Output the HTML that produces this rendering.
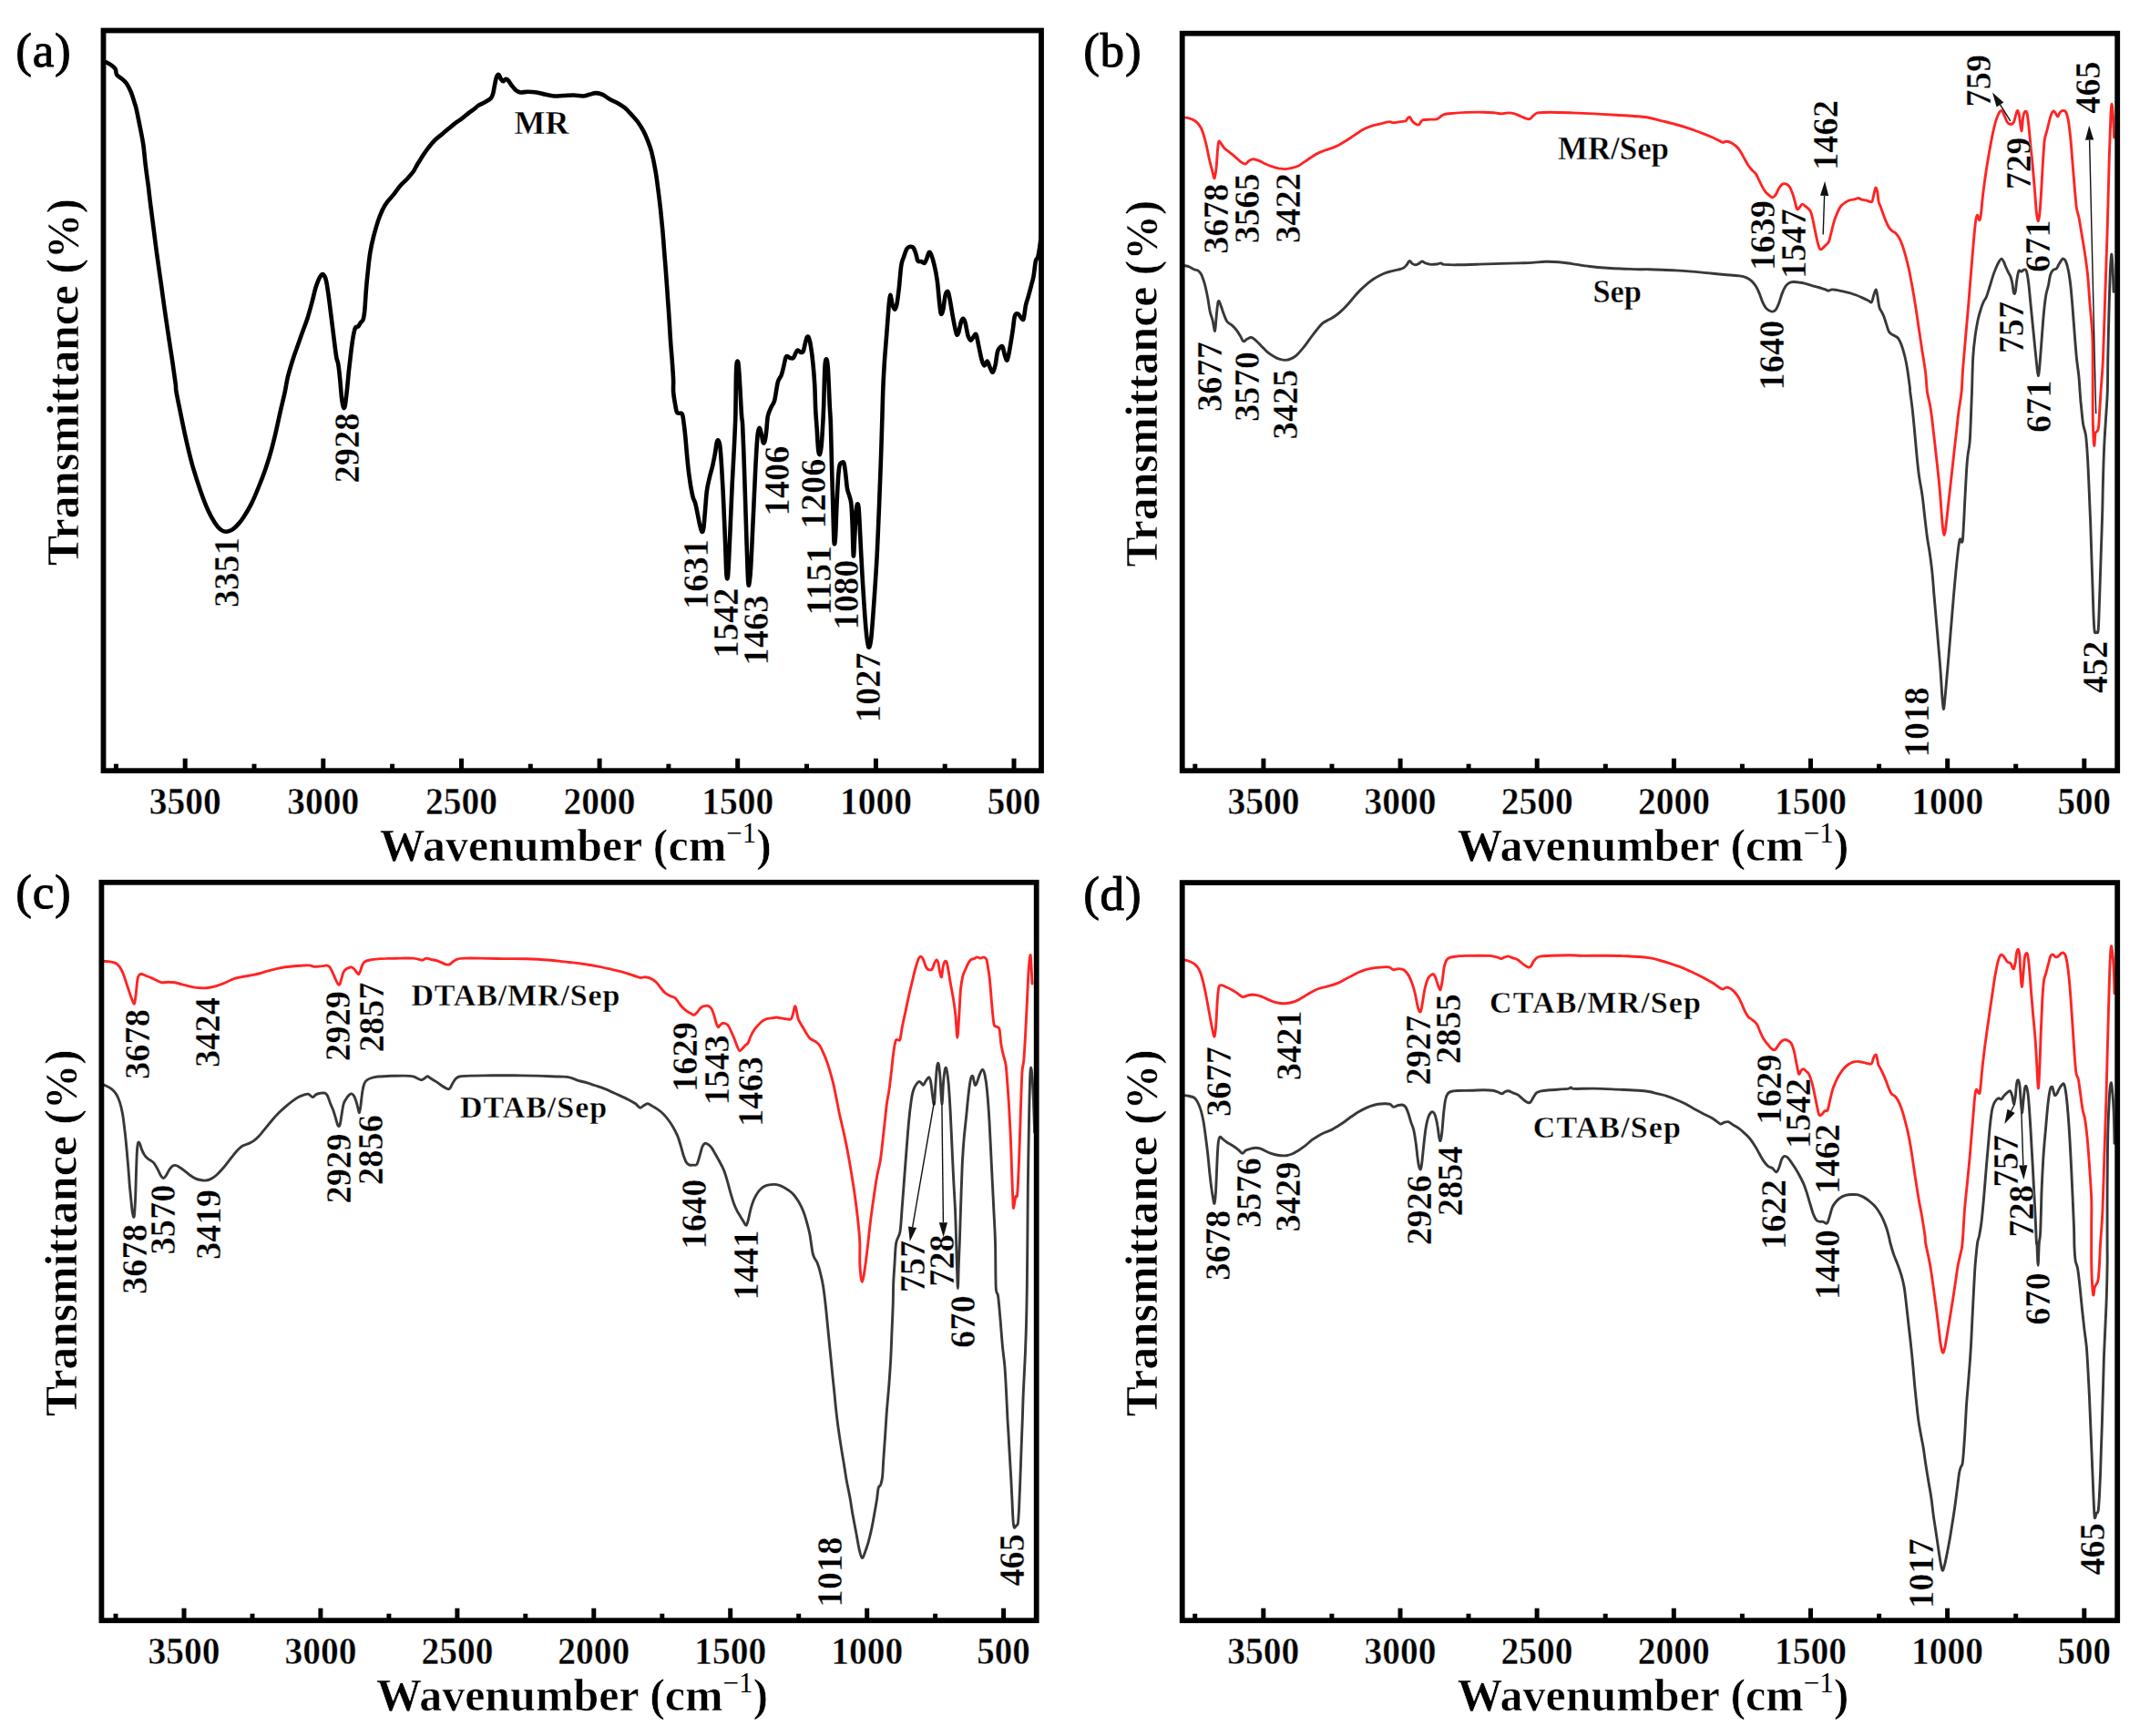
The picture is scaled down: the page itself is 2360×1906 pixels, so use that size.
<!DOCTYPE html><html><head><meta charset="utf-8"><title>FTIR spectra</title>
<style>html,body{margin:0;padding:0;background:#fff;overflow:hidden}svg{display:block}text{font-family:"Liberation Serif", "Times New Roman", serif;fill:#000;font-weight:bold;stroke:#fff;stroke-linejoin:round}.fb14{stroke-width:0.6px}.fb12{stroke-width:0.45px}.fb10{stroke-width:0.4px}.fb0{font-weight:normal;stroke:none}.tag{font-weight:normal;stroke:#000;stroke-width:1.0px}</style></head><body>
<svg width="2360" height="1906" viewBox="0 0 2360 1906">
<rect width="2360" height="1906" fill="#fff"/>
<clipPath id="clipa"><rect x="113.5" y="33.5" width="1029.5" height="812.7"/></clipPath>
<g clip-path="url(#clipa)">
<path d="M110.0,66.3C110.4,66.4 110.8,66.2 112.4,66.8C114.0,67.4 117.3,68.5 119.7,69.9C122.0,71.4 125.0,73.5 126.5,75.5C127.9,77.5 126.9,80.1 128.1,82.0C129.4,83.9 132.4,85.3 134.2,86.9C136.0,88.5 137.4,89.3 139.0,91.7C140.6,94.1 142.5,98.0 143.9,101.4C145.3,104.8 146.5,109.0 147.5,112.3C148.5,115.5 148.9,116.3 149.9,120.7C150.9,125.2 152.3,132.6 153.6,138.9C154.8,145.1 156.2,151.4 157.2,158.2C158.2,165.1 158.7,172.4 159.6,180.0C160.5,187.7 161.7,196.2 162.8,204.2C163.8,212.3 164.6,220.4 165.7,228.4C166.7,236.5 167.8,244.5 168.8,252.6C169.8,260.7 170.9,268.7 171.9,276.8C173.0,284.9 174.2,292.9 175.3,301.0C176.5,309.1 177.6,317.1 178.7,325.2C179.8,333.3 180.9,341.3 182.1,349.4C183.3,357.5 184.5,365.5 185.7,373.6C186.9,381.7 188.2,389.7 189.4,397.8C190.5,405.9 192.1,416.6 192.8,422.0C193.4,427.4 192.6,424.6 193.5,430.0C194.4,435.4 196.5,445.3 198.3,454.2C200.1,463.1 202.2,473.6 204.4,483.2C206.6,492.9 209.0,503.0 211.6,512.3C214.3,521.5 217.3,530.8 220.1,538.9C222.9,547.0 225.9,554.8 228.6,560.7C231.2,566.5 233.6,570.5 235.8,574.0C238.0,577.4 239.9,579.6 241.9,581.2C243.9,582.8 245.9,583.5 247.9,583.7C249.9,583.8 252.0,583.0 254.0,582.0C256.0,580.9 257.8,579.5 260.0,577.1C262.2,574.8 264.7,571.9 267.3,567.9C269.9,564.0 272.9,559.1 275.8,553.4C278.6,547.8 281.6,540.5 284.2,534.0C286.8,527.6 289.3,521.1 291.5,514.7C293.7,508.2 295.7,501.8 297.5,495.3C299.3,488.9 300.8,482.8 302.4,476.0C304.0,469.1 305.5,461.9 307.2,454.2C308.9,446.5 311.4,436.6 312.8,430.0C314.2,423.4 314.4,420.1 315.7,414.7C317.0,409.4 318.9,403.0 320.5,397.8C322.1,392.6 323.5,388.5 325.4,383.3C327.2,378.0 329.4,372.0 331.4,366.3C333.4,360.7 335.6,355.1 337.5,349.4C339.3,343.8 340.8,338.1 342.3,332.5C343.8,326.8 345.3,320.0 346.6,315.5C348.0,311.1 349.2,308.2 350.3,305.8C351.4,303.5 352.3,302.1 353.2,301.5C354.1,300.9 354.8,301.1 355.6,302.2C356.4,303.3 357.2,304.8 358.0,308.3C358.8,311.7 359.6,317.1 360.4,322.8C361.2,328.4 362.1,335.7 362.9,342.1C363.7,348.6 364.5,355.1 365.3,361.5C366.1,368.0 367.0,375.6 367.7,380.9C368.4,386.1 368.8,389.7 369.4,393.0C370.0,396.2 370.7,396.2 371.3,400.2C372.0,404.3 372.7,411.1 373.3,417.2C373.9,423.2 374.4,431.6 375.0,436.5C375.6,441.5 376.3,445.3 376.9,446.9C377.5,448.6 378.0,448.7 378.6,446.2C379.2,443.6 379.8,438.1 380.5,431.7C381.3,425.2 382.1,415.1 382.9,407.5C383.8,399.8 384.6,392.2 385.4,385.7C386.2,379.2 387.0,373.1 387.8,368.8C388.6,364.4 389.3,361.3 390.2,359.6C391.1,357.9 392.2,359.4 393.1,358.6C394.0,357.8 394.6,356.1 395.5,354.7C396.5,353.4 397.9,353.1 398.7,350.6C399.5,348.1 399.8,345.6 400.4,339.7C400.9,333.9 401.5,322.8 402.1,315.5C402.7,308.3 403.3,302.6 404.0,296.2C404.7,289.7 405.4,282.9 406.4,276.8C407.4,270.8 408.6,265.5 410.0,259.9C411.5,254.2 413.3,247.8 414.9,242.9C416.5,238.1 418.1,234.3 419.7,230.8C421.3,227.4 422.5,225.2 424.6,222.4C426.6,219.5 429.4,216.9 431.8,213.9C434.2,210.9 436.7,207.0 439.1,204.2C441.5,201.4 443.9,199.6 446.3,197.0C448.8,194.3 451.6,191.3 453.6,188.5C455.6,185.7 456.6,183.0 458.4,180.0C460.3,177.0 462.5,173.4 464.5,170.3C466.5,167.3 468.3,164.7 470.5,161.9C472.8,159.1 475.4,155.8 477.8,153.4C480.2,151.0 482.6,149.4 485.1,147.4C487.5,145.3 489.9,143.3 492.3,141.3C494.7,139.3 497.2,137.1 499.6,135.3C502.0,133.4 504.4,132.2 506.8,130.4C509.3,128.6 511.7,126.3 514.1,124.4C516.5,122.5 519.5,120.5 521.4,119.0C523.2,117.6 523.2,117.0 525.0,115.9C526.8,114.8 529.9,113.6 532.2,112.3C534.5,110.9 537.3,109.5 538.8,107.9C540.3,106.3 540.5,105.1 541.2,102.6C541.9,100.1 542.5,95.9 543.1,92.9C543.8,89.9 544.3,86.3 545.1,84.4C545.8,82.6 546.7,81.6 547.5,82.0C548.3,82.4 549.1,85.7 549.9,86.9C550.7,88.1 551.5,89.3 552.3,89.3C553.1,89.3 553.9,87.1 554.7,86.9C555.6,86.7 556.6,87.0 557.7,88.1C558.7,89.2 559.9,91.6 561.3,93.4C562.7,95.2 564.5,97.6 566.1,99.0C567.7,100.3 568.7,101.1 571.0,101.4C573.2,101.7 576.4,100.7 579.4,100.7C582.5,100.7 585.9,100.9 589.1,101.4C592.3,101.9 595.6,103.1 598.8,103.8C602.0,104.5 605.2,105.3 608.5,105.5C611.7,105.7 614.6,105.2 618.1,105.0C621.7,104.9 626.4,104.4 630.0,104.5C633.6,104.6 636.9,105.6 639.7,105.5C642.5,105.4 644.5,104.4 646.9,103.8C649.4,103.2 651.8,102.1 654.2,102.1C656.6,102.1 659.0,102.7 661.5,103.8C663.9,104.9 665.9,107.0 668.7,108.6C671.5,110.3 675.6,111.9 678.4,113.5C681.2,115.1 683.2,116.3 685.7,118.3C688.1,120.3 690.5,123.0 692.9,125.6C695.3,128.2 698.0,131.0 700.2,134.0C702.4,137.1 704.4,140.3 706.2,143.7C708.0,147.2 709.6,150.8 711.1,154.6C712.6,158.4 713.8,161.7 715.2,166.7C716.5,171.8 717.9,178.6 719.0,184.9C720.2,191.1 721.0,197.0 721.9,204.2C722.9,211.5 724.0,220.4 724.9,228.4C725.7,236.5 726.5,244.5 727.3,252.6C728.0,260.7 728.6,268.7 729.2,276.8C729.9,284.9 730.5,292.9 731.1,301.0C731.7,309.1 732.3,317.1 732.8,325.2C733.4,333.3 734.0,341.3 734.5,349.4C735.1,357.5 735.4,365.5 736.0,373.6C736.5,381.7 737.4,390.5 737.9,397.8C738.4,405.1 738.9,411.8 739.1,417.2C739.3,422.5 738.8,425.8 739.1,430.0C739.4,434.2 740.1,438.3 740.8,442.1C741.5,445.9 742.0,451.0 743.2,453.0C744.5,455.0 747.4,452.4 748.6,454.2C749.8,456.0 749.9,459.8 750.5,463.9C751.1,467.9 751.6,472.7 752.2,478.4C752.8,484.0 753.3,491.3 753.9,497.8C754.5,504.2 755.1,511.1 755.8,517.1C756.6,523.2 757.4,529.2 758.2,534.0C759.1,538.9 759.9,543.1 760.7,546.1C761.5,549.2 762.3,549.4 763.1,552.2C763.9,555.0 764.7,559.3 765.5,563.1C766.3,566.9 767.1,571.8 767.9,575.2C768.7,578.6 769.6,582.8 770.3,583.7C771.1,584.5 771.7,583.9 772.3,580.0C772.9,576.2 773.4,567.5 774.0,560.7C774.6,553.8 775.1,544.9 775.9,538.9C776.7,532.8 777.8,528.8 778.8,524.4C779.8,519.9 781.0,516.7 782.0,512.3C783.0,507.8 784.1,502.2 784.9,497.8C785.7,493.3 786.2,488.0 786.8,485.7C787.4,483.3 787.9,482.9 788.5,483.7C789.1,484.5 789.8,485.7 790.4,490.5C791.0,495.3 791.6,504.2 792.1,512.3C792.6,520.3 793.1,529.2 793.6,538.9C794.1,548.6 794.6,560.3 795.0,570.3C795.5,580.4 795.8,589.3 796.2,599.4C796.6,609.5 797.0,625.2 797.4,630.8C797.9,636.5 798.5,636.1 798.9,633.3C799.3,630.4 799.6,623.6 800.1,613.9C800.6,604.2 801.2,588.9 801.8,575.2C802.4,561.5 803.1,545.7 803.7,531.6C804.4,517.5 805.3,503.4 805.9,490.5C806.5,477.6 807.0,468.0 807.4,454.2C807.7,440.4 807.7,417.1 808.1,407.5C808.5,397.9 809.0,396.6 809.5,396.6C810.1,396.6 810.5,397.9 811.2,407.5C812.0,417.1 813.3,444.4 813.9,454.2C814.5,464.0 814.6,457.0 815.1,466.3C815.6,475.6 816.3,494.9 816.8,509.9C817.3,524.8 817.8,540.9 818.3,555.8C818.7,570.7 819.2,585.7 819.7,599.4C820.2,613.1 820.7,631.2 821.2,638.1C821.6,645.0 821.9,642.9 822.4,640.5C822.9,638.1 823.5,632.9 824.1,623.6C824.7,614.3 825.4,598.2 826.0,584.9C826.6,571.6 827.3,557.4 827.9,543.7C828.6,530.0 829.2,513.9 829.9,502.6C830.5,491.3 831.2,481.4 831.8,476.0C832.5,470.5 833.1,469.9 833.7,469.9C834.4,469.9 835.0,473.4 835.7,476.0C836.3,478.6 837.0,484.2 837.6,485.7C838.3,487.1 838.9,486.5 839.5,484.4C840.2,482.4 840.7,478.2 841.2,473.6C841.8,468.9 842.0,461.1 842.9,456.6C843.8,452.2 845.4,449.8 846.6,446.9C847.8,444.1 849.0,444.2 850.2,439.7C851.4,435.1 852.6,424.1 853.8,419.6C855.0,415.0 856.4,414.9 857.5,412.3C858.5,409.7 859.1,407.1 859.9,403.8C860.7,400.6 861.6,395.1 862.3,393.0C863.0,390.8 863.4,391.0 864.2,391.0C865.0,391.0 866.0,392.6 867.1,393.0C868.2,393.3 869.8,393.8 870.8,393.0C871.8,392.2 872.4,389.5 873.2,388.1C874.0,386.7 874.6,384.7 875.6,384.5C876.6,384.3 878.2,386.7 879.2,386.9C880.2,387.1 880.8,387.5 881.7,385.7C882.5,383.9 883.3,378.6 884.1,376.0C884.8,373.4 885.4,370.8 886.0,370.0C886.7,369.2 887.3,369.4 887.9,371.2C888.6,373.0 889.4,376.0 890.1,380.9C890.9,385.7 891.9,393.4 892.5,400.2C893.2,407.1 893.8,413.8 894.2,422.0C894.7,430.2 894.8,441.2 895.2,449.4C895.6,457.5 896.2,463.9 896.7,471.1C897.1,478.4 897.6,488.3 898.1,492.9C898.6,497.6 899.2,499.4 899.8,499.0C900.4,498.6 901.0,495.1 901.5,490.5C902.0,485.9 902.5,478.8 902.9,471.1C903.4,463.5 903.8,455.7 904.2,444.5C904.6,433.3 904.9,412.2 905.4,403.8C905.8,395.5 906.5,394.2 907.1,394.2C907.6,394.2 908.1,395.5 908.8,403.8C909.4,412.2 910.2,434.1 910.7,444.5C911.2,454.9 911.5,454.6 911.9,466.3C912.3,478.0 912.7,499.8 913.1,514.7C913.5,529.6 913.9,542.5 914.3,555.8C914.7,569.1 915.1,588.9 915.5,594.5C916.0,600.2 916.5,596.2 917.0,589.7C917.5,583.2 917.9,566.3 918.4,555.8C918.9,545.3 919.4,534.3 919.9,526.8C920.4,519.3 920.9,514.2 921.6,511.1C922.3,507.9 923.2,508.3 924.0,507.9C924.8,507.5 925.7,506.7 926.4,508.6C927.1,510.6 927.5,514.9 928.1,519.5C928.7,524.2 929.3,532.2 930.0,536.5C930.8,540.7 931.7,542.1 932.5,544.9C933.2,547.8 933.9,548.4 934.4,553.4C934.9,558.4 935.2,565.7 935.6,575.2C936.0,584.7 936.4,608.3 936.8,610.3C937.3,612.3 937.8,595.5 938.3,587.3C938.8,579.0 939.2,566.3 939.7,560.7C940.2,555.0 940.7,553.8 941.2,553.4C941.7,553.0 942.1,553.0 942.6,558.2C943.1,563.5 943.6,574.8 944.1,584.9C944.6,594.9 945.2,608.3 945.8,618.7C946.3,629.2 946.9,638.1 947.5,647.8C948.1,657.5 948.8,668.3 949.4,676.8C950.0,685.3 950.7,692.9 951.3,698.6C952.0,704.2 952.8,709.9 953.5,710.7C954.3,711.5 955.2,708.3 955.9,703.4C956.7,698.6 957.1,690.9 957.9,681.7C958.6,672.4 959.5,659.9 960.3,647.8C961.1,635.7 962.0,622.8 962.7,609.1C963.4,595.3 964.0,580.0 964.6,565.5C965.3,551.0 965.8,536.5 966.3,521.9C966.9,507.4 967.3,493.7 967.8,478.4C968.3,463.1 968.8,443.0 969.2,430.0C969.7,417.0 970.1,410.4 970.7,400.2C971.3,390.0 972.3,379.2 973.1,368.8C973.9,358.3 974.9,344.8 975.5,337.3C976.2,329.8 976.5,324.4 977.2,324.0C977.9,323.6 978.8,332.3 979.7,334.9C980.5,337.5 981.3,339.9 982.1,339.7C982.9,339.5 983.7,337.7 984.5,333.7C985.3,329.6 986.1,322.6 986.9,315.5C987.7,308.5 988.4,297.0 989.3,291.3C990.2,285.7 991.2,284.7 992.2,281.7C993.2,278.6 994.3,275.0 995.4,273.2C996.5,271.4 997.8,271.0 999.0,270.8C1000.2,270.6 1001.5,270.6 1002.6,272.0C1003.7,273.4 1004.7,276.8 1005.5,279.2C1006.3,281.7 1006.6,285.2 1007.5,286.5C1008.4,287.8 1009.9,286.6 1011.1,287.0C1012.3,287.4 1013.7,289.4 1014.7,288.9C1015.7,288.4 1016.4,286.0 1017.2,284.1C1018.0,282.1 1018.8,278.1 1019.6,277.3C1020.4,276.5 1021.0,276.9 1022.0,279.2C1023.0,281.6 1024.5,286.5 1025.6,291.3C1026.8,296.2 1027.8,301.4 1028.8,308.3C1029.7,315.1 1030.5,326.4 1031.2,332.5C1031.9,338.5 1032.2,343.4 1032.9,344.6C1033.6,345.8 1034.5,343.2 1035.3,339.7C1036.1,336.3 1036.8,327.2 1037.7,324.0C1038.6,320.8 1039.7,319.0 1040.6,320.4C1041.6,321.8 1042.4,327.6 1043.3,332.5C1044.2,337.3 1045.1,343.8 1046.2,349.4C1047.3,355.1 1048.8,363.7 1049.8,366.3C1050.8,369.0 1051.4,367.1 1052.2,365.1C1053.0,363.1 1053.9,356.8 1054.7,354.2C1055.5,351.7 1056.3,349.9 1057.1,349.9C1057.9,349.9 1058.6,351.1 1059.5,354.2C1060.4,357.4 1061.6,365.5 1062.6,368.8C1063.7,372.0 1064.5,373.6 1065.6,373.6C1066.6,373.6 1068.2,369.8 1069.2,368.8C1070.2,367.8 1070.8,365.9 1071.6,367.6C1072.4,369.2 1073.0,373.8 1074.0,378.4C1075.0,383.1 1076.6,391.5 1077.7,395.4C1078.7,399.2 1079.5,401.2 1080.6,401.4C1081.6,401.6 1082.7,396.2 1083.7,396.6C1084.7,397.0 1085.8,401.8 1086.8,403.8C1087.9,405.9 1088.8,409.3 1089.7,408.7C1090.7,408.1 1091.8,404.0 1092.7,400.2C1093.5,396.4 1094.1,388.9 1095.1,385.7C1096.0,382.5 1097.3,381.7 1098.2,380.9C1099.1,380.1 1099.8,379.2 1100.6,380.9C1101.4,382.5 1102.3,388.1 1103.1,390.5C1103.9,393.0 1104.7,396.2 1105.5,395.4C1106.3,394.6 1106.9,390.9 1107.9,385.7C1108.9,380.5 1110.5,370.4 1111.5,363.9C1112.5,357.5 1112.9,350.2 1113.9,347.0C1115.0,343.8 1116.4,344.2 1117.6,344.6C1118.8,345.0 1120.2,348.5 1121.2,349.4C1122.2,350.3 1122.8,352.3 1123.6,349.9C1124.4,347.5 1125.2,338.8 1126.0,334.9C1126.9,331.0 1127.5,330.0 1128.5,326.4C1129.5,322.8 1131.1,316.9 1132.1,313.1C1133.1,309.3 1133.7,307.9 1134.5,303.4C1135.3,299.0 1136.1,290.1 1136.9,286.5C1137.7,282.9 1138.5,284.9 1139.4,281.7C1140.2,278.4 1141.1,272.8 1141.8,267.1C1142.5,261.5 1143.2,251.0 1143.5,247.8" fill="none" stroke="#000" stroke-width="4.6" stroke-linejoin="round" stroke-linecap="round"/>
</g>
<clipPath id="clipb"><rect x="1297.7" y="36.7" width="1026.5" height="809.5"/></clipPath>
<g clip-path="url(#clipb)">
<path d="M1297.3,291.3C1298.5,291.5 1302.3,291.8 1304.5,292.5C1306.7,293.3 1308.8,294.9 1310.6,295.7C1312.4,296.5 1314.0,296.3 1315.4,297.4C1316.8,298.5 1317.8,299.6 1319.0,302.2C1320.2,304.8 1321.5,308.9 1322.7,313.1C1323.8,317.3 1324.9,322.8 1325.8,327.6C1326.7,332.5 1327.3,338.1 1328.2,342.1C1329.1,346.2 1330.2,348.3 1331.1,351.8C1332.0,355.4 1332.9,363.8 1333.6,363.4C1334.2,363.0 1334.5,354.2 1335.0,349.4C1335.5,344.6 1336.0,338.0 1336.5,334.9C1336.9,331.7 1337.3,330.3 1337.9,330.5C1338.6,330.7 1339.4,333.8 1340.3,336.1C1341.2,338.4 1342.1,341.7 1343.2,344.6C1344.3,347.4 1345.5,351.0 1346.9,353.0C1348.3,355.1 1350.1,355.3 1351.7,356.7C1353.3,358.1 1354.9,359.5 1356.5,361.5C1358.2,363.5 1360.0,366.5 1361.4,368.8C1362.8,371.0 1363.8,374.2 1365.0,374.8C1366.2,375.4 1367.2,373.1 1368.6,372.4C1370.1,371.7 1371.9,370.3 1373.5,370.5C1375.1,370.7 1376.5,372.1 1378.3,373.6C1380.1,375.1 1382.2,377.4 1384.4,379.7C1386.6,381.9 1389.2,384.9 1391.6,386.9C1394.0,388.9 1396.7,390.5 1398.9,391.7C1401.1,393.0 1402.9,393.8 1404.9,394.4C1407.0,395.0 1409.0,395.5 1411.0,395.4C1413.0,395.3 1415.0,394.8 1417.0,393.9C1419.1,393.0 1420.9,392.0 1423.1,390.1C1425.3,388.1 1427.9,385.0 1430.3,382.1C1432.8,379.1 1435.2,375.6 1437.6,372.4C1440.0,369.2 1442.4,365.7 1444.9,362.7C1447.3,359.8 1449.7,356.7 1452.1,354.7C1454.5,352.7 1457.2,351.9 1459.4,350.6C1461.6,349.3 1463.4,348.4 1465.4,347.0C1467.4,345.6 1469.3,344.2 1471.5,342.1C1473.7,340.1 1476.3,337.5 1478.7,334.9C1481.2,332.3 1483.6,329.2 1486.0,326.4C1488.4,323.7 1490.8,320.9 1493.3,318.4C1495.7,316.0 1498.1,313.9 1500.5,311.9C1502.9,309.9 1505.0,308.1 1507.8,306.3C1510.6,304.5 1514.4,302.4 1517.5,301.0C1520.5,299.6 1523.1,298.9 1525.9,298.1C1528.7,297.3 1532.0,296.8 1534.4,296.2C1536.8,295.5 1538.8,295.1 1540.4,294.2C1542.1,293.3 1542.9,292.1 1544.1,290.8C1545.2,289.6 1546.2,286.7 1547.2,286.5C1548.2,286.2 1549.0,288.7 1550.1,289.4C1551.2,290.1 1552.5,290.8 1553.8,290.8C1555.0,290.8 1556.2,290.0 1557.4,289.4C1558.6,288.7 1559.8,287.1 1561.0,287.0C1562.2,286.9 1563.0,288.3 1564.6,288.9C1566.3,289.5 1568.5,290.2 1570.7,290.4C1572.9,290.5 1576.1,290.1 1577.9,289.9C1579.8,289.6 1580.4,288.8 1581.6,288.9C1582.8,289.0 1582.2,290.0 1585.2,290.4C1588.2,290.7 1593.3,290.9 1599.7,290.8C1606.2,290.8 1615.9,290.4 1623.9,290.1C1632.0,289.9 1640.9,289.6 1648.1,289.4C1655.4,289.2 1661.8,289.1 1667.5,288.9C1673.1,288.7 1677.2,288.7 1682.0,288.4C1686.8,288.1 1691.7,287.3 1696.5,287.2C1701.4,287.1 1706.2,287.3 1711.0,287.7C1715.9,288.1 1719.9,288.8 1725.6,289.6C1731.2,290.4 1738.5,291.8 1744.9,292.5C1751.4,293.3 1757.8,293.8 1764.3,294.2C1770.7,294.7 1778.0,295.0 1783.6,295.2C1789.3,295.4 1793.7,295.6 1798.1,295.7C1802.5,295.8 1805.6,295.6 1810.0,295.7C1814.4,295.8 1819.7,296.0 1824.5,296.2C1829.4,296.4 1834.2,296.6 1839.0,296.9C1843.9,297.2 1848.7,297.5 1853.6,297.9C1858.4,298.2 1863.2,298.6 1868.1,299.1C1872.9,299.5 1878.6,300.1 1882.6,300.5C1886.6,300.9 1889.0,301.2 1892.3,301.5C1895.5,301.8 1899.1,302.0 1901.9,302.2C1904.8,302.5 1906.8,302.5 1909.2,302.9C1911.6,303.3 1914.3,303.8 1916.5,304.6C1918.7,305.5 1920.7,306.7 1922.5,308.3C1924.3,309.9 1925.9,312.1 1927.4,314.3C1928.8,316.5 1929.8,318.8 1931.0,321.6C1932.2,324.4 1933.4,328.6 1934.6,331.3C1935.8,334.0 1937.0,336.2 1938.2,337.8C1939.5,339.4 1940.7,340.2 1941.9,340.9C1943.1,341.7 1944.3,342.3 1945.5,342.1C1946.7,342.0 1947.9,341.8 1949.1,340.2C1950.3,338.6 1951.6,335.6 1952.8,332.5C1954.0,329.4 1955.2,324.6 1956.4,321.6C1957.6,318.6 1958.8,316.1 1960.0,314.3C1961.2,312.5 1962.2,311.5 1963.7,310.7C1965.1,309.9 1966.7,309.6 1968.5,309.5C1970.3,309.4 1972.3,309.6 1974.5,310.0C1976.8,310.3 1979.4,310.8 1981.8,311.4C1984.2,312.0 1986.6,312.9 1989.1,313.6C1991.5,314.3 1993.9,314.8 1996.3,315.5C1998.7,316.3 2001.8,317.3 2003.6,317.9C2005.4,318.6 2006.0,319.2 2007.2,319.2C2008.4,319.2 2009.4,318.1 2010.8,317.9C2012.2,317.8 2013.7,318.1 2015.7,318.4C2017.7,318.8 2020.5,319.4 2022.9,319.9C2025.4,320.4 2027.8,320.9 2030.2,321.6C2032.6,322.3 2035.0,323.1 2037.5,324.0C2039.9,324.9 2042.5,326.1 2044.7,327.1C2046.9,328.2 2049.1,329.3 2050.8,330.0C2052.4,330.8 2053.4,332.7 2054.4,331.7C2055.4,330.7 2056.0,326.3 2056.8,324.0C2057.6,321.7 2058.5,317.7 2059.2,317.9C2059.9,318.1 2060.3,322.0 2060.9,325.2C2061.5,328.4 2062.1,334.5 2062.9,337.3C2063.6,340.1 2064.5,340.5 2065.3,342.1C2066.1,343.8 2066.9,345.0 2067.7,347.0C2068.5,349.0 2069.2,351.4 2070.1,354.2C2071.0,357.1 2072.3,361.8 2073.3,363.9C2074.3,366.0 2075.1,366.0 2076.2,366.8C2077.3,367.6 2078.6,368.0 2079.8,368.8C2081.0,369.5 2082.2,369.6 2083.4,371.2C2084.6,372.8 2085.8,375.2 2087.1,378.4C2088.3,381.7 2089.6,386.1 2090.7,390.5C2091.8,395.0 2092.7,399.4 2093.6,405.1C2094.5,410.7 2095.7,420.3 2096.3,424.4C2096.8,428.6 2096.3,425.8 2096.7,430.0C2097.2,434.2 2098.4,442.1 2099.2,449.4C2100.0,456.6 2100.8,465.1 2101.6,473.6C2102.4,482.0 2103.2,492.1 2104.0,500.2C2104.8,508.2 2105.4,514.7 2106.4,521.9C2107.4,529.2 2109.0,536.5 2110.0,543.7C2111.1,551.0 2111.6,557.8 2112.5,565.5C2113.4,573.2 2114.4,582.4 2115.4,589.7C2116.4,597.0 2117.6,602.6 2118.5,609.1C2119.4,615.5 2120.2,621.2 2120.9,628.4C2121.7,635.7 2122.2,644.5 2122.9,652.6C2123.6,660.7 2124.3,667.9 2125.0,676.8C2125.8,685.7 2126.7,696.2 2127.5,705.8C2128.3,715.5 2129.2,725.2 2129.9,734.9C2130.6,744.6 2131.3,756.7 2131.8,763.9C2132.4,771.2 2132.8,777.6 2133.3,778.4C2133.8,779.2 2134.1,774.8 2134.7,768.8C2135.4,762.7 2136.3,751.4 2137.1,742.1C2138.0,732.9 2138.8,722.8 2139.6,713.1C2140.4,703.4 2141.2,693.8 2142.0,684.1C2142.8,674.4 2143.6,664.3 2144.4,655.0C2145.2,645.8 2146.1,636.1 2146.8,628.4C2147.6,620.8 2148.1,614.7 2148.8,609.1C2149.4,603.4 2150.2,597.4 2150.7,594.5C2151.2,591.6 2151.1,591.6 2151.7,591.6C2152.2,591.6 2153.4,597.3 2154.1,594.5C2154.7,591.8 2155.1,582.4 2155.5,575.2C2156.0,567.9 2156.3,559.1 2156.7,551.0C2157.2,542.9 2157.5,534.9 2158.0,526.8C2158.4,518.7 2159.0,509.4 2159.7,502.6C2160.3,495.7 2161.5,492.5 2162.1,485.7C2162.7,478.8 2162.9,470.7 2163.3,461.5C2163.7,452.2 2164.1,441.4 2164.5,430.0C2164.9,418.6 2165.1,403.2 2165.7,393.0C2166.3,382.8 2167.2,375.6 2168.1,368.8C2169.0,361.9 2170.0,356.7 2171.0,351.8C2172.0,347.0 2173.1,343.2 2174.2,339.7C2175.2,336.3 2176.3,333.5 2177.3,331.3C2178.3,329.0 2179.1,329.0 2180.2,326.4C2181.3,323.8 2182.6,319.4 2183.8,315.5C2185.1,311.7 2186.3,307.1 2187.5,303.4C2188.7,299.8 2189.9,296.6 2191.1,293.8C2192.3,290.9 2193.7,288.1 2194.7,286.5C2195.7,284.9 2196.4,283.9 2197.2,284.1C2198.0,284.3 2198.8,286.1 2199.6,287.7C2200.4,289.3 2201.1,291.7 2202.0,293.8C2202.9,295.8 2204.1,298.2 2204.9,299.8C2205.7,301.4 2206.2,301.6 2206.8,303.4C2207.5,305.2 2208.2,307.7 2208.8,310.7C2209.4,313.7 2209.9,320.0 2210.5,321.6C2211.0,323.2 2211.6,323.0 2212.2,320.4C2212.8,317.7 2213.4,309.7 2214.1,305.8C2214.7,302.0 2215.2,298.7 2216.0,297.4C2216.8,296.1 2218.0,298.3 2218.9,298.1C2219.8,297.9 2220.5,296.3 2221.4,296.2C2222.2,296.0 2223.4,295.0 2224.3,297.4C2225.1,299.8 2225.9,304.4 2226.7,310.7C2227.5,316.9 2228.3,326.8 2229.1,334.9C2229.9,343.0 2230.7,351.0 2231.5,359.1C2232.3,367.1 2233.2,376.0 2233.9,383.3C2234.7,390.5 2235.3,397.7 2235.9,402.6C2236.4,407.6 2236.8,412.8 2237.3,412.8C2237.8,412.8 2238.2,408.4 2238.8,402.6C2239.3,396.9 2240.0,387.7 2240.7,378.4C2241.4,369.2 2242.3,355.9 2243.1,347.0C2243.9,338.1 2244.7,330.9 2245.6,325.2C2246.4,319.6 2247.6,317.1 2248.5,313.1C2249.3,309.1 2249.9,303.8 2250.9,301.0C2251.8,298.2 2253.0,297.2 2254.0,296.2C2255.1,295.2 2256.2,296.0 2257.2,295.0C2258.2,294.0 2259.1,291.7 2260.1,290.1C2261.0,288.5 2262.2,286.3 2263.0,285.3C2263.8,284.3 2264.2,283.9 2264.9,284.1C2265.6,284.3 2266.5,284.9 2267.3,286.5C2268.1,288.1 2268.9,290.1 2269.7,293.8C2270.6,297.4 2271.4,301.8 2272.2,308.3C2273.0,314.7 2273.8,323.2 2274.6,332.5C2275.4,341.7 2276.2,353.8 2277.0,363.9C2277.8,374.0 2278.6,384.9 2279.4,393.0C2280.2,401.0 2281.2,406.1 2281.8,412.3C2282.5,418.5 2282.6,423.8 2283.1,430.0C2283.5,436.2 2284.1,443.3 2284.8,449.4C2285.4,455.4 2285.9,461.5 2286.7,466.3C2287.5,471.1 2288.8,472.3 2289.6,478.4C2290.4,484.4 2290.9,492.5 2291.5,502.6C2292.1,512.7 2292.7,526.8 2293.2,538.9C2293.7,551.0 2294.2,563.1 2294.7,575.2C2295.1,587.3 2295.5,599.4 2295.9,611.5C2296.3,623.6 2296.7,636.1 2297.1,647.8C2297.5,659.5 2297.9,674.0 2298.3,681.7C2298.7,689.3 2298.8,691.7 2299.3,693.8C2299.8,695.8 2300.6,694.4 2301.2,694.2C2301.9,694.0 2302.7,696.3 2303.1,692.5C2303.6,688.8 2303.7,681.5 2304.1,672.0C2304.5,662.5 2304.9,647.8 2305.3,635.7C2305.7,623.6 2306.1,611.5 2306.5,599.4C2306.9,587.3 2307.4,575.2 2307.7,563.1C2308.1,551.0 2308.1,538.9 2308.5,526.8C2308.8,514.7 2309.2,501.4 2309.7,490.5C2310.2,479.6 2310.8,471.5 2311.4,461.5C2312.0,451.4 2312.9,441.4 2313.3,430.0C2313.7,418.6 2313.5,409.2 2313.8,393.0C2314.1,376.7 2314.8,348.6 2315.2,332.5C2315.7,316.3 2316.0,305.0 2316.4,296.2C2316.9,287.3 2317.3,280.0 2317.7,279.2C2318.1,278.4 2318.5,284.5 2318.9,291.3C2319.3,298.2 2319.9,315.5 2320.1,320.4" fill="none" stroke="#383838" stroke-width="2.9" stroke-linejoin="round" stroke-linecap="round"/>
<path d="M1297.3,128.7C1298.5,128.9 1302.1,129.0 1304.5,129.7C1306.9,130.4 1309.8,131.5 1311.8,132.8C1313.8,134.2 1315.2,135.7 1316.6,137.7C1318.0,139.7 1319.0,141.5 1320.2,144.9C1321.5,148.4 1322.7,153.2 1323.9,158.2C1325.1,163.3 1326.4,170.3 1327.5,175.2C1328.6,180.0 1329.7,183.9 1330.7,187.3C1331.6,190.7 1332.3,196.2 1333.1,195.8C1333.8,195.3 1334.4,189.9 1335.0,184.9C1335.6,179.8 1336.0,170.4 1336.5,165.5C1336.9,160.6 1337.2,156.6 1337.9,155.3C1338.6,154.1 1339.7,157.0 1340.8,158.2C1341.9,159.5 1342.8,161.5 1344.4,163.1C1346.1,164.7 1348.5,166.3 1350.5,167.9C1352.5,169.5 1354.5,171.1 1356.5,172.8C1358.6,174.5 1360.8,176.9 1362.6,178.1C1364.4,179.3 1366.0,180.3 1367.4,180.0C1368.8,179.7 1369.6,177.3 1371.1,176.4C1372.5,175.5 1374.1,174.7 1375.9,174.7C1377.7,174.7 1379.7,175.5 1381.9,176.4C1384.2,177.3 1386.8,178.9 1389.2,180.0C1391.6,181.1 1394.0,182.1 1396.5,182.9C1398.9,183.7 1401.3,184.4 1403.7,184.9C1406.1,185.3 1408.6,185.7 1411.0,185.6C1413.4,185.5 1415.8,185.0 1418.2,184.4C1420.7,183.8 1423.1,183.2 1425.5,182.0C1427.9,180.7 1430.3,178.7 1432.8,177.1C1435.2,175.5 1437.6,173.8 1440.0,172.3C1442.4,170.7 1444.9,169.1 1447.3,167.9C1449.7,166.7 1452.1,165.9 1454.5,165.0C1457.0,164.1 1459.4,163.5 1461.8,162.6C1464.2,161.7 1466.6,160.7 1469.1,159.5C1471.5,158.2 1473.9,156.8 1476.3,155.3C1478.7,153.8 1481.2,152.1 1483.6,150.5C1486.0,148.9 1488.4,147.2 1490.8,145.7C1493.3,144.1 1495.3,142.6 1498.1,141.3C1500.9,140.0 1504.5,138.7 1507.8,137.7C1511.0,136.7 1514.6,135.9 1517.5,135.3C1520.3,134.6 1522.7,133.6 1524.7,133.6C1526.7,133.5 1527.5,134.8 1529.6,134.8C1531.6,134.8 1534.6,133.9 1536.8,133.6C1539.0,133.2 1541.5,133.5 1542.9,132.8C1544.3,132.2 1544.5,130.4 1545.3,129.7C1546.1,129.0 1546.9,128.2 1547.7,128.7C1548.5,129.2 1549.1,131.6 1550.1,132.8C1551.1,134.0 1552.5,135.3 1553.8,136.0C1555.0,136.7 1556.4,137.4 1557.4,137.0C1558.4,136.5 1559.0,134.5 1559.8,133.6C1560.6,132.7 1560.4,132.0 1562.2,131.6C1564.0,131.2 1568.3,131.3 1570.7,131.1C1573.1,131.0 1575.1,131.3 1576.7,130.9C1578.4,130.5 1579.0,129.6 1580.4,128.7C1581.8,127.8 1582.8,126.3 1585.2,125.6C1587.6,124.9 1590.9,124.7 1594.9,124.4C1598.9,124.0 1603.8,123.6 1609.4,123.4C1615.1,123.2 1623.5,123.1 1628.8,123.2C1634.0,123.2 1637.6,123.6 1640.9,123.9C1644.1,124.2 1645.7,124.9 1648.1,124.9C1650.5,124.9 1653.0,123.9 1655.4,123.9C1657.8,123.9 1660.2,124.2 1662.6,124.9C1665.1,125.5 1667.7,127.1 1669.9,128.0C1672.1,128.9 1674.3,130.0 1675.9,130.4C1677.6,130.8 1678.4,131.0 1679.6,130.4C1680.8,129.8 1681.8,127.9 1683.2,126.8C1684.6,125.7 1685.0,124.5 1688.0,123.9C1691.1,123.3 1695.1,123.2 1701.4,123.2C1707.6,123.2 1717.5,123.6 1725.6,123.9C1733.6,124.2 1741.7,124.5 1749.7,124.9C1757.8,125.3 1766.7,125.9 1773.9,126.3C1781.2,126.7 1787.3,127.0 1793.3,127.5C1799.3,128.0 1804.8,128.3 1810.0,129.2C1815.2,130.1 1819.7,131.6 1824.5,132.8C1829.4,134.0 1834.2,135.1 1839.0,136.5C1843.9,137.8 1848.7,139.2 1853.6,140.8C1858.4,142.4 1863.6,144.5 1868.1,146.1C1872.5,147.8 1876.9,149.6 1880.2,151.0C1883.4,152.4 1885.6,153.7 1887.4,154.6C1889.2,155.5 1889.9,156.2 1891.1,156.3C1892.3,156.4 1893.3,155.3 1894.7,155.3C1896.1,155.3 1897.9,155.6 1899.5,156.3C1901.1,157.0 1902.8,158.1 1904.4,159.5C1906.0,160.8 1907.6,162.1 1909.2,164.3C1910.8,166.5 1912.4,169.9 1914.0,172.8C1915.7,175.6 1917.3,178.8 1918.9,181.2C1920.5,183.7 1922.3,185.7 1923.7,187.3C1925.1,188.9 1926.1,189.1 1927.4,190.9C1928.6,192.7 1929.8,195.8 1931.0,198.2C1932.2,200.6 1933.4,203.3 1934.6,205.4C1935.8,207.6 1937.0,209.5 1938.2,211.0C1939.5,212.5 1940.7,213.4 1941.9,214.4C1943.1,215.4 1944.3,216.9 1945.5,216.8C1946.7,216.7 1947.9,215.6 1949.1,213.9C1950.3,212.2 1951.6,208.6 1952.8,206.6C1954.0,204.7 1955.2,203.1 1956.4,202.3C1957.6,201.5 1958.8,201.5 1960.0,201.8C1961.2,202.1 1962.4,202.6 1963.7,204.2C1964.9,205.8 1966.2,208.7 1967.3,211.5C1968.4,214.3 1969.3,218.1 1970.2,221.2C1971.1,224.2 1971.7,228.6 1972.6,229.6C1973.5,230.6 1974.8,228.1 1975.8,227.2C1976.7,226.3 1977.2,224.2 1978.2,224.1C1979.2,223.9 1980.6,225.6 1981.8,226.5C1983.0,227.4 1984.4,228.5 1985.4,229.6C1986.4,230.8 1987.0,231.0 1987.9,233.3C1988.7,235.5 1989.5,239.3 1990.3,242.9C1991.1,246.6 1991.9,251.2 1992.7,255.0C1993.5,258.9 1994.3,262.9 1995.1,265.9C1995.9,268.9 1996.7,272.0 1997.5,273.2C1998.3,274.4 1998.9,273.8 1999.9,273.2C2001.0,272.6 2002.4,270.8 2003.6,269.6C2004.8,268.3 2006.2,267.9 2007.2,265.9C2008.2,263.9 2008.6,261.3 2009.6,257.5C2010.6,253.6 2012.0,247.0 2013.3,242.9C2014.5,238.9 2015.7,236.0 2016.9,233.3C2018.1,230.5 2019.1,228.3 2020.5,226.5C2021.9,224.7 2023.7,223.5 2025.4,222.4C2027.0,221.3 2028.4,220.6 2030.2,219.9C2032.0,219.3 2034.6,219.1 2036.2,218.7C2037.9,218.3 2038.7,217.4 2039.9,217.5C2041.1,217.6 2042.1,218.8 2043.5,219.2C2044.9,219.6 2046.9,219.6 2048.3,219.9C2049.8,220.3 2050.9,221.0 2052.0,221.2C2053.1,221.4 2054.1,222.4 2054.9,221.2C2055.7,219.9 2056.2,216.4 2056.8,213.9C2057.5,211.4 2058.1,206.8 2058.7,206.2C2059.4,205.6 2060.1,207.8 2060.7,210.3C2061.2,212.8 2061.6,218.5 2062.1,221.2C2062.7,223.9 2063.3,224.5 2064.1,226.5C2064.8,228.5 2065.5,230.5 2066.5,233.3C2067.5,236.0 2068.9,240.1 2070.1,242.9C2071.3,245.8 2072.5,248.4 2073.8,250.2C2075.0,252.0 2076.2,252.8 2077.4,253.8C2078.6,254.8 2079.8,255.0 2081.0,256.2C2082.2,257.5 2083.4,258.9 2084.6,261.1C2085.8,263.3 2087.1,266.1 2088.3,269.6C2089.5,273.0 2090.7,277.2 2091.9,281.7C2093.1,286.1 2094.3,290.5 2095.5,296.2C2096.7,301.8 2097.9,308.7 2099.2,315.5C2100.4,322.4 2101.6,329.6 2102.8,337.3C2104.0,345.0 2105.2,353.4 2106.4,361.5C2107.6,369.6 2108.8,377.6 2110.0,385.7C2111.3,393.8 2112.8,402.5 2113.7,409.9C2114.6,417.3 2114.6,424.2 2115.4,430.0C2116.2,435.8 2117.6,439.3 2118.5,444.5C2119.4,449.8 2120.1,455.0 2120.9,461.5C2121.7,467.9 2122.5,476.0 2123.4,483.2C2124.2,490.5 2125.0,497.8 2125.8,505.0C2126.6,512.3 2127.5,519.9 2128.2,526.8C2128.9,533.6 2129.4,539.7 2129.9,546.1C2130.4,552.6 2130.9,559.7 2131.3,565.5C2131.8,571.4 2132.3,577.6 2132.8,581.2C2133.3,584.9 2133.8,587.5 2134.2,587.3C2134.7,587.1 2135.1,584.5 2135.7,580.0C2136.3,575.6 2137.1,567.5 2137.9,560.7C2138.6,553.8 2139.5,546.1 2140.3,538.9C2141.1,531.6 2141.9,524.4 2142.7,517.1C2143.5,509.9 2144.3,502.6 2145.1,495.3C2145.9,488.1 2146.7,480.8 2147.6,473.6C2148.4,466.3 2149.0,459.0 2150.0,451.8C2150.9,444.5 2152.3,438.2 2153.1,430.0C2153.9,421.8 2154.0,412.8 2154.8,402.6C2155.6,392.4 2156.7,380.5 2157.7,368.8C2158.7,357.1 2159.9,344.6 2160.9,332.5C2161.9,320.4 2162.9,307.1 2163.8,296.2C2164.7,285.3 2165.4,276.0 2166.2,267.1C2167.0,258.3 2167.9,248.1 2168.6,242.9C2169.3,237.8 2169.9,236.4 2170.5,236.2C2171.2,236.0 2171.9,241.6 2172.5,241.7C2173.1,241.8 2173.5,241.5 2174.2,236.9C2174.9,232.2 2175.6,222.2 2176.6,213.9C2177.6,205.6 2179.0,195.3 2180.2,187.3C2181.4,179.2 2182.6,172.4 2183.8,165.5C2185.1,158.6 2186.3,151.8 2187.5,146.1C2188.7,140.5 2189.9,135.5 2191.1,131.6C2192.3,127.8 2193.7,124.9 2194.7,123.2C2195.7,121.5 2196.4,121.1 2197.2,121.5C2198.0,121.9 2198.6,123.5 2199.6,125.6C2200.6,127.7 2202.0,132.2 2203.2,134.0C2204.4,135.9 2205.6,136.5 2206.8,136.5C2208.0,136.5 2209.5,135.9 2210.5,134.0C2211.5,132.2 2212.2,127.7 2212.9,125.6C2213.6,123.5 2214.0,121.3 2214.6,121.5C2215.2,121.7 2215.8,123.1 2216.5,126.8C2217.2,130.5 2218.2,143.3 2218.9,143.7C2219.6,144.1 2220.0,132.7 2220.6,129.2C2221.2,125.7 2221.8,123.5 2222.6,122.7C2223.3,121.9 2224.3,122.1 2225.0,124.4C2225.7,126.7 2226.1,131.2 2226.7,136.5C2227.3,141.7 2227.9,148.6 2228.6,155.8C2229.3,163.1 2230.2,171.2 2231.0,180.0C2231.8,188.9 2232.7,200.2 2233.5,209.1C2234.2,217.9 2234.7,227.6 2235.4,233.3C2236.0,238.9 2236.7,242.9 2237.3,242.9C2237.9,242.9 2238.5,238.9 2239.0,233.3C2239.6,227.6 2240.1,218.7 2240.7,209.1C2241.3,199.4 2242.0,184.5 2242.6,175.2C2243.3,165.9 2243.7,158.6 2244.3,153.4C2245.0,148.2 2246.0,147.0 2246.8,143.7C2247.6,140.5 2248.4,137.1 2249.2,134.0C2250.0,131.0 2250.8,127.6 2251.6,125.6C2252.4,123.6 2253.2,122.2 2254.0,121.9C2254.8,121.7 2255.6,123.4 2256.4,124.4C2257.2,125.4 2258.1,128.2 2258.9,128.0C2259.7,127.8 2260.3,124.2 2261.3,123.2C2262.3,122.1 2263.8,121.5 2264.9,121.5C2266.0,121.5 2266.9,121.5 2267.8,123.2C2268.7,124.9 2269.4,127.0 2270.2,131.6C2271.0,136.3 2271.8,142.9 2272.7,151.0C2273.5,159.1 2274.3,170.3 2275.1,180.0C2275.9,189.7 2276.8,201.0 2277.5,209.1C2278.2,217.1 2278.7,223.6 2279.4,228.4C2280.2,233.3 2281.0,234.1 2281.8,238.1C2282.7,242.1 2283.3,246.6 2284.3,252.6C2285.3,258.7 2286.7,266.3 2287.9,274.4C2289.1,282.5 2290.5,291.3 2291.5,301.0C2292.5,310.7 2293.1,321.2 2293.9,332.5C2294.8,343.8 2296.3,356.3 2296.8,368.8C2297.4,381.3 2297.1,397.3 2297.2,407.5C2297.2,417.7 2297.2,423.0 2297.2,430.0C2297.2,437.0 2297.1,442.5 2297.2,449.4C2297.2,456.2 2297.3,464.5 2297.6,471.1C2297.8,477.8 2298.4,488.5 2298.8,489.3C2299.2,490.1 2299.5,478.6 2300.0,476.0C2300.5,473.4 2301.3,474.8 2301.9,473.6C2302.5,472.3 2303.1,472.7 2303.6,468.7C2304.1,464.7 2304.4,455.8 2304.8,449.4C2305.2,442.9 2305.4,439.4 2306.0,430.0C2306.6,420.6 2307.7,411.2 2308.5,393.0C2309.3,374.7 2310.1,344.6 2310.9,320.4C2311.7,296.2 2312.6,272.0 2313.3,247.8C2314.0,223.6 2314.6,195.3 2315.2,175.2C2315.8,155.0 2316.4,137.0 2316.9,126.8C2317.4,116.6 2317.7,114.2 2318.1,114.2C2318.5,114.2 2318.9,120.7 2319.4,126.8C2319.8,132.9 2320.4,147.0 2320.6,151.0" fill="none" stroke="#ff2424" stroke-width="2.9" stroke-linejoin="round" stroke-linecap="round"/>
</g>
<clipPath id="clipc"><rect x="111.4" y="968.8" width="1026.3" height="810.4"/></clipPath>
<g clip-path="url(#clipc)">
<path d="M111.8,1190.5C112.7,1190.8 115.2,1191.5 117.1,1192.5C119.0,1193.4 121.3,1194.5 123.1,1196.1C125.0,1197.7 126.6,1199.7 128.0,1202.1C129.4,1204.6 130.5,1207.2 131.6,1210.6C132.7,1214.0 133.6,1217.7 134.5,1222.7C135.4,1227.7 136.2,1234.6 136.9,1240.8C137.7,1247.1 138.2,1253.4 138.9,1260.2C139.5,1267.1 140.2,1274.7 140.8,1282.0C141.4,1289.2 141.9,1297.3 142.5,1303.8C143.1,1310.2 143.7,1315.9 144.2,1320.7C144.7,1325.5 145.1,1330.4 145.7,1332.8C146.2,1335.2 146.9,1338.0 147.3,1335.2C147.8,1332.4 148.2,1323.9 148.6,1315.9C148.9,1307.8 149.2,1295.7 149.5,1286.8C149.8,1278.0 150.1,1268.0 150.5,1262.6C150.9,1257.3 151.2,1255.9 151.7,1254.6C152.2,1253.4 152.8,1254.2 153.4,1255.4C154.0,1256.5 154.5,1259.4 155.3,1261.4C156.1,1263.4 157.1,1265.7 158.2,1267.5C159.3,1269.2 160.7,1270.7 161.9,1271.8C163.1,1273.0 164.3,1273.4 165.5,1274.2C166.7,1275.1 167.9,1275.7 169.1,1277.1C170.3,1278.6 171.5,1281.0 172.8,1283.2C174.0,1285.4 175.3,1288.7 176.4,1290.5C177.5,1292.2 178.5,1293.6 179.5,1293.6C180.5,1293.6 181.3,1292.1 182.4,1290.5C183.5,1288.8 184.9,1285.7 186.1,1283.9C187.3,1282.2 188.5,1280.8 189.7,1280.0C190.9,1279.3 192.1,1279.3 193.3,1279.6C194.5,1279.8 195.5,1280.6 196.9,1281.5C198.4,1282.4 200.0,1283.5 201.8,1284.9C203.6,1286.3 205.8,1288.3 207.8,1289.7C209.9,1291.2 211.9,1292.6 213.9,1293.6C215.9,1294.6 217.9,1295.1 219.9,1295.5C222.0,1295.9 224.0,1296.3 226.0,1296.0C228.0,1295.8 230.0,1295.1 232.0,1294.1C234.1,1293.0 235.9,1291.7 238.1,1289.7C240.3,1287.7 242.9,1284.8 245.3,1282.0C247.8,1279.2 250.2,1275.8 252.6,1272.8C255.0,1269.8 257.6,1266.3 259.9,1263.8C262.1,1261.4 263.9,1259.6 265.9,1258.3C267.9,1256.9 269.9,1256.7 272.0,1255.9C274.0,1255.0 276.0,1254.3 278.0,1252.9C280.0,1251.6 281.8,1250.0 284.1,1247.6C286.3,1245.3 288.9,1241.9 291.3,1238.9C293.7,1236.0 296.2,1232.8 298.6,1230.0C301.0,1227.1 303.4,1224.4 305.8,1222.0C308.3,1219.6 310.7,1217.5 313.1,1215.4C315.5,1213.3 317.9,1211.2 320.4,1209.4C322.8,1207.6 325.4,1205.8 327.6,1204.6C329.8,1203.3 331.8,1202.7 333.7,1202.1C335.5,1201.6 336.9,1200.8 338.5,1201.2C340.1,1201.6 341.9,1204.5 343.3,1204.6C344.8,1204.6 345.6,1202.4 347.0,1201.6C348.4,1200.9 350.2,1200.4 351.8,1200.2C353.4,1200.0 355.4,1199.7 356.7,1200.2C357.9,1200.7 358.5,1201.4 359.6,1203.3C360.6,1205.3 361.7,1209.2 362.7,1211.8C363.7,1214.4 364.8,1216.2 365.8,1219.1C366.9,1221.9 367.9,1225.9 368.8,1228.8C369.6,1231.6 370.4,1235.0 371.2,1236.0C371.9,1237.0 372.5,1236.8 373.1,1234.8C373.8,1232.8 374.4,1227.7 375.0,1223.9C375.7,1220.1 376.3,1214.8 377.2,1211.8C378.1,1208.8 379.4,1207.4 380.4,1205.8C381.4,1204.1 382.4,1202.9 383.3,1202.1C384.2,1201.3 384.8,1200.7 385.7,1200.9C386.6,1201.1 387.7,1201.9 388.6,1203.3C389.5,1204.8 390.3,1207.2 391.0,1209.4C391.7,1211.6 392.4,1214.6 392.9,1216.7C393.5,1218.7 393.9,1221.9 394.4,1221.5C394.9,1221.1 395.4,1217.5 395.9,1214.2C396.3,1211.0 396.8,1205.8 397.3,1202.1C397.8,1198.5 398.3,1195.0 399.0,1192.5C399.7,1190.0 400.2,1188.5 401.4,1187.1C402.6,1185.7 404.0,1184.8 406.3,1184.0C408.5,1183.1 410.9,1182.5 414.7,1182.0C418.6,1181.6 424.4,1181.5 429.2,1181.3C434.1,1181.2 439.7,1181.0 443.8,1181.1C447.8,1181.2 451.0,1181.3 453.4,1181.8C455.9,1182.3 456.7,1183.3 458.3,1184.0C459.8,1184.6 461.3,1185.7 462.6,1185.7C463.9,1185.7 464.9,1184.6 466.0,1184.0C467.1,1183.3 468.0,1181.8 469.2,1181.8C470.3,1181.8 471.2,1183.0 472.8,1184.0C474.4,1185.0 476.8,1186.3 478.8,1187.6C480.9,1188.9 483.1,1190.8 484.9,1192.0C486.7,1193.2 488.3,1194.3 489.7,1194.9C491.1,1195.4 492.2,1196.2 493.4,1195.4C494.5,1194.6 495.4,1191.8 496.5,1190.0C497.6,1188.3 498.6,1186.0 499.9,1184.7C501.2,1183.4 501.5,1182.7 504.3,1182.0C507.0,1181.4 510.3,1181.3 516.4,1181.1C522.4,1180.9 532.5,1180.9 540.6,1180.8C548.6,1180.8 556.7,1180.8 564.7,1180.8C572.8,1180.9 580.9,1180.9 588.9,1181.1C597.0,1181.3 607.1,1181.8 613.1,1182.0C619.2,1182.3 621.4,1182.0 625.0,1182.8C628.6,1183.5 631.5,1185.4 634.7,1186.4C637.9,1187.4 641.1,1187.9 644.4,1188.8C647.6,1189.8 650.8,1190.9 654.0,1192.0C657.3,1193.1 660.5,1194.1 663.7,1195.4C666.9,1196.6 670.2,1198.3 673.4,1199.7C676.6,1201.2 680.0,1202.7 683.1,1204.1C686.1,1205.5 689.1,1206.9 691.5,1208.2C694.0,1209.5 695.8,1210.5 697.6,1211.8C699.4,1213.1 701.0,1215.8 702.4,1216.2C703.8,1216.6 704.6,1215.0 706.1,1214.2C707.5,1213.5 709.3,1211.8 710.9,1211.8C712.5,1211.8 713.9,1213.2 715.7,1214.2C717.6,1215.2 719.8,1216.5 721.8,1217.9C723.8,1219.3 725.8,1220.7 727.8,1222.7C729.9,1224.7 732.1,1227.5 733.9,1230.0C735.7,1232.4 737.1,1234.4 738.7,1237.2C740.3,1240.0 742.2,1243.5 743.6,1246.9C745.0,1250.3 746.1,1254.2 747.2,1257.8C748.3,1261.4 749.3,1265.7 750.3,1268.7C751.4,1271.7 752.2,1274.2 753.2,1275.9C754.3,1277.7 755.7,1278.6 756.9,1279.1C758.1,1279.6 759.2,1279.2 760.5,1279.1C761.8,1279.0 763.7,1279.9 764.9,1278.4C766.1,1276.8 766.8,1273.1 767.8,1269.9C768.8,1266.7 769.9,1261.4 770.9,1259.0C771.9,1256.6 772.7,1255.8 773.8,1255.4C774.9,1255.0 776.2,1255.8 777.4,1256.6C778.7,1257.4 779.9,1258.6 781.1,1260.2C782.3,1261.8 783.3,1263.8 784.7,1266.3C786.1,1268.7 787.9,1271.7 789.5,1274.7C791.2,1277.8 793.0,1281.0 794.4,1284.4C795.8,1287.8 796.8,1291.3 798.0,1295.3C799.2,1299.3 800.4,1304.4 801.6,1308.6C802.9,1312.8 804.1,1317.3 805.3,1320.7C806.5,1324.1 807.7,1326.7 808.9,1329.2C810.1,1331.6 811.3,1333.2 812.5,1335.2C813.7,1337.2 815.1,1339.6 816.2,1341.3C817.2,1343.0 818.2,1345.8 819.1,1345.4C819.9,1345.0 820.7,1341.8 821.5,1338.8C822.3,1335.9 823.0,1331.4 823.9,1328.0C824.8,1324.5 825.9,1321.1 827.0,1318.3C828.2,1315.5 829.3,1313.2 830.7,1311.0C832.1,1308.8 833.9,1306.5 835.5,1305.0C837.1,1303.4 838.5,1302.6 840.4,1301.8C842.2,1301.1 844.4,1300.8 846.4,1300.6C848.4,1300.4 850.4,1300.3 852.5,1300.6C854.5,1300.9 856.5,1301.6 858.5,1302.6C860.5,1303.5 862.5,1304.8 864.6,1306.2C866.6,1307.6 868.6,1308.8 870.6,1311.0C872.6,1313.2 874.8,1316.5 876.7,1319.5C878.5,1322.5 880.1,1325.7 881.5,1329.2C882.9,1332.6 883.9,1335.8 885.1,1340.1C886.3,1344.3 887.5,1348.4 888.8,1354.6C890.0,1360.7 891.0,1371.7 892.4,1377.1C893.8,1382.5 895.8,1383.1 897.2,1386.8C898.6,1390.4 899.8,1394.4 900.8,1398.9C901.9,1403.3 902.9,1407.7 903.8,1413.4C904.6,1419.0 905.4,1425.5 906.2,1432.8C907.0,1440.0 907.8,1448.9 908.6,1456.9C909.4,1465.0 910.2,1473.1 911.0,1481.1C911.8,1489.2 912.6,1497.3 913.4,1505.3C914.2,1513.4 915.1,1522.3 915.9,1529.5C916.6,1536.8 917.1,1542.4 917.8,1548.9C918.5,1555.4 919.3,1561.8 920.2,1568.3C921.1,1574.7 922.1,1581.2 923.1,1587.6C924.1,1594.1 925.2,1600.5 926.3,1607.0C927.3,1613.4 928.3,1620.3 929.4,1626.3C930.5,1632.4 931.7,1637.2 932.8,1643.3C933.9,1649.3 934.8,1656.2 935.9,1662.6C937.1,1669.1 938.4,1675.5 939.6,1682.0C940.8,1688.4 942.1,1696.6 943.2,1701.3C944.3,1706.1 945.3,1710.1 946.3,1710.5C947.4,1710.9 948.5,1706.9 949.7,1703.8C950.9,1700.6 952.4,1696.1 953.6,1691.7C954.8,1687.2 955.9,1682.4 957.0,1677.1C958.1,1671.9 959.2,1665.4 960.1,1660.2C961.1,1655.0 961.9,1650.1 962.6,1645.7C963.2,1641.3 963.6,1636.2 964.2,1633.6C964.9,1631.0 965.9,1632.0 966.7,1630.0C967.4,1627.9 968.1,1626.1 968.6,1621.5C969.1,1616.9 969.3,1609.4 969.8,1602.1C970.3,1594.9 970.9,1586.8 971.5,1577.9C972.1,1569.1 972.7,1558.6 973.4,1548.9C974.2,1539.2 975.1,1529.5 975.9,1519.9C976.6,1510.2 977.3,1500.5 977.8,1490.8C978.3,1481.1 978.6,1471.5 979.0,1461.8C979.4,1452.1 979.9,1441.6 980.2,1432.8C980.5,1423.9 980.4,1415.8 980.7,1408.6C981.0,1401.3 981.4,1396.5 981.9,1389.2C982.4,1381.9 982.6,1371.2 983.6,1365.0C984.6,1358.8 986.8,1359.1 988.0,1352.2C989.1,1345.2 989.6,1333.2 990.4,1323.1C991.2,1313.0 992.0,1302.1 992.8,1291.7C993.6,1281.2 994.4,1270.3 995.2,1260.2C996.0,1250.1 996.8,1239.6 997.6,1231.2C998.4,1222.7 999.3,1215.0 1000.1,1209.4C1000.9,1203.7 1001.5,1200.5 1002.5,1197.3C1003.5,1194.1 1004.9,1191.6 1006.1,1190.0C1007.3,1188.4 1008.5,1187.4 1009.7,1187.6C1010.9,1187.8 1012.2,1191.4 1013.4,1191.2C1014.5,1191.0 1015.4,1187.8 1016.5,1186.4C1017.6,1185.0 1019.0,1182.4 1019.9,1182.8C1020.8,1183.2 1021.2,1185.2 1021.8,1188.8C1022.5,1192.5 1023.2,1200.7 1023.8,1204.6C1024.4,1208.4 1024.9,1214.6 1025.5,1211.8C1026.0,1209.0 1026.6,1194.5 1027.2,1187.6C1027.7,1180.8 1028.1,1173.9 1028.6,1170.7C1029.1,1167.5 1029.7,1166.2 1030.3,1168.3C1030.9,1170.3 1031.4,1175.5 1032.0,1182.8C1032.6,1190.0 1033.3,1211.0 1033.9,1211.8C1034.5,1212.6 1035.0,1194.1 1035.6,1187.6C1036.2,1181.2 1037.0,1175.1 1037.6,1173.1C1038.2,1171.1 1038.7,1172.7 1039.3,1175.5C1039.9,1178.3 1040.5,1182.8 1041.2,1190.0C1041.8,1197.3 1042.5,1208.2 1043.1,1219.1C1043.7,1230.0 1044.3,1243.3 1044.8,1255.4C1045.4,1267.5 1045.9,1279.6 1046.5,1291.7C1047.1,1303.8 1047.9,1315.9 1048.5,1328.0C1049.0,1340.1 1049.5,1358.1 1049.7,1364.3C1049.9,1370.4 1049.5,1360.8 1049.7,1365.0C1049.8,1369.2 1050.1,1380.9 1050.4,1389.2C1050.7,1397.5 1051.0,1414.6 1051.4,1414.6C1051.7,1414.6 1052.0,1397.5 1052.3,1389.2C1052.6,1380.9 1052.9,1375.2 1053.3,1365.0C1053.7,1354.8 1054.0,1342.2 1054.5,1328.0C1055.0,1313.7 1055.6,1292.5 1056.2,1279.6C1056.8,1266.7 1057.4,1259.4 1058.1,1250.5C1058.9,1241.7 1059.7,1234.4 1060.6,1226.3C1061.4,1218.3 1062.2,1209.0 1063.0,1202.1C1063.8,1195.3 1064.6,1188.6 1065.4,1185.2C1066.2,1181.8 1067.0,1180.6 1067.8,1181.6C1068.6,1182.6 1069.4,1190.2 1070.2,1191.2C1071.0,1192.3 1071.8,1189.6 1072.7,1187.6C1073.5,1185.6 1074.5,1181.4 1075.6,1179.1C1076.6,1176.9 1077.8,1174.1 1078.7,1174.3C1079.6,1174.5 1080.3,1176.5 1081.1,1180.4C1081.9,1184.2 1082.7,1188.8 1083.5,1197.3C1084.3,1205.8 1085.2,1217.5 1086.0,1231.2C1086.8,1244.9 1087.6,1263.4 1088.4,1279.6C1089.2,1295.7 1090.1,1313.8 1090.8,1328.0C1091.5,1342.1 1092.1,1350.0 1092.5,1364.3C1092.9,1378.5 1092.7,1403.6 1093.2,1413.4C1093.7,1423.2 1094.8,1417.0 1095.6,1423.1C1096.4,1429.1 1097.3,1440.4 1098.1,1449.7C1098.9,1459.0 1099.7,1470.3 1100.5,1478.7C1101.3,1487.2 1102.2,1492.0 1102.9,1500.5C1103.6,1509.0 1104.1,1519.9 1104.6,1529.5C1105.1,1539.2 1105.5,1548.9 1106.0,1558.6C1106.6,1568.3 1107.2,1577.9 1107.7,1587.6C1108.3,1597.3 1108.9,1607.0 1109.4,1616.7C1110.0,1626.3 1110.4,1636.8 1110.9,1645.7C1111.3,1654.6 1111.7,1664.6 1112.1,1669.9C1112.5,1675.1 1112.7,1676.3 1113.3,1677.1C1113.9,1678.0 1115.0,1675.5 1115.7,1674.7C1116.4,1673.9 1116.9,1675.5 1117.4,1672.3C1117.9,1669.1 1118.2,1663.0 1118.6,1655.4C1119.0,1647.7 1119.4,1636.8 1119.8,1626.3C1120.2,1615.8 1120.6,1603.7 1121.0,1592.5C1121.4,1581.2 1121.9,1569.9 1122.3,1558.6C1122.7,1547.3 1122.9,1536.8 1123.5,1524.7C1124.0,1512.6 1124.9,1498.5 1125.4,1486.0C1125.9,1473.5 1126.3,1461.8 1126.6,1449.7C1126.9,1437.6 1127.1,1427.5 1127.3,1413.4C1127.5,1399.3 1127.7,1383.3 1127.8,1365.0C1128.0,1346.7 1128.0,1326.1 1128.3,1303.8C1128.6,1281.5 1129.1,1251.3 1129.5,1231.2C1129.9,1211.0 1130.3,1192.7 1130.7,1182.8C1131.1,1172.9 1131.5,1171.9 1131.9,1171.9C1132.3,1171.9 1132.7,1176.9 1133.1,1182.8C1133.5,1188.6 1133.9,1196.9 1134.4,1207.0C1134.8,1217.1 1135.4,1237.2 1135.6,1243.3" fill="none" stroke="#383838" stroke-width="2.9" stroke-linejoin="round" stroke-linecap="round"/>
<path d="M111.8,1055.3C113.1,1055.3 117.0,1055.4 119.5,1055.7C122.0,1056.1 124.8,1056.4 126.8,1057.4C128.8,1058.4 130.2,1059.9 131.6,1061.8C133.0,1063.7 134.0,1066.0 135.2,1069.0C136.5,1072.1 137.7,1076.3 138.9,1079.9C140.1,1083.6 141.4,1087.6 142.5,1090.8C143.6,1094.1 144.8,1097.5 145.7,1099.3C146.5,1101.1 147.0,1103.1 147.6,1101.7C148.2,1100.3 148.7,1095.3 149.3,1090.8C149.8,1086.4 150.4,1078.5 151.0,1075.1C151.6,1071.7 152.1,1071.2 152.9,1070.3C153.7,1069.3 154.5,1069.3 155.8,1069.5C157.1,1069.7 158.8,1070.7 160.7,1071.5C162.5,1072.2 164.7,1073.0 166.7,1073.9C168.7,1074.8 170.9,1076.0 172.8,1076.8C174.6,1077.6 175.6,1078.5 177.6,1078.7C179.6,1079.0 182.4,1078.2 184.9,1078.2C187.3,1078.2 189.7,1078.3 192.1,1078.7C194.5,1079.1 196.9,1080.0 199.4,1080.7C201.8,1081.3 204.2,1082.0 206.6,1082.6C209.0,1083.2 211.5,1083.7 213.9,1084.1C216.3,1084.4 218.7,1084.7 221.1,1084.8C223.6,1084.9 226.0,1084.8 228.4,1084.5C230.8,1084.3 233.2,1083.7 235.7,1083.1C238.1,1082.4 240.5,1081.6 242.9,1080.7C245.3,1079.7 247.8,1078.6 250.2,1077.5C252.6,1076.5 255.0,1075.2 257.4,1074.4C259.9,1073.6 261.9,1073.2 264.7,1072.7C267.5,1072.1 271.2,1071.6 274.4,1071.0C277.6,1070.4 280.8,1069.9 284.1,1069.0C287.3,1068.2 290.5,1067.0 293.7,1066.1C297.0,1065.3 300.2,1064.5 303.4,1063.7C306.6,1063.0 309.9,1062.3 313.1,1061.8C316.3,1061.3 319.5,1061.1 322.8,1060.8C326.0,1060.5 329.6,1060.3 332.5,1060.1C335.3,1059.9 337.7,1059.7 339.7,1059.9C341.7,1060.1 342.9,1061.1 344.6,1061.3C346.2,1061.5 347.8,1061.2 349.4,1061.1C351.0,1060.9 352.6,1060.7 354.2,1060.6C355.8,1060.4 357.8,1059.9 359.1,1060.1C360.4,1060.3 361.0,1060.5 362.0,1061.8C363.0,1063.1 364.1,1065.6 365.1,1067.8C366.2,1070.1 367.3,1073.0 368.3,1075.1C369.3,1077.2 370.4,1079.8 371.2,1080.7C372.0,1081.5 372.5,1081.3 373.1,1080.2C373.8,1079.0 374.4,1076.1 375.0,1073.9C375.7,1071.7 376.3,1068.8 377.2,1067.1C378.1,1065.4 379.4,1064.5 380.4,1063.7C381.4,1063.0 382.4,1062.8 383.3,1062.5C384.2,1062.2 384.8,1061.6 385.7,1061.8C386.6,1062.0 387.6,1062.7 388.6,1063.7C389.6,1064.7 390.9,1066.9 391.7,1067.8C392.6,1068.8 393.1,1069.7 393.7,1069.5C394.3,1069.3 394.8,1068.1 395.4,1066.6C396.0,1065.1 396.6,1062.3 397.3,1060.6C398.0,1058.9 398.6,1057.5 399.7,1056.5C400.8,1055.5 401.7,1055.1 403.8,1054.5C405.9,1054.0 408.9,1053.4 412.3,1053.1C415.7,1052.7 420.0,1052.5 424.4,1052.4C428.8,1052.2 434.1,1052.2 438.9,1052.1C443.8,1052.1 449.8,1051.9 453.4,1052.1C457.1,1052.4 458.9,1053.2 460.7,1053.6C462.5,1053.9 463.1,1054.3 464.3,1054.0C465.5,1053.8 466.5,1052.2 468.0,1052.1C469.4,1052.0 471.0,1052.9 472.8,1053.3C474.6,1053.7 476.8,1053.9 478.8,1054.5C480.9,1055.1 483.1,1056.2 484.9,1056.9C486.7,1057.7 488.3,1058.6 489.7,1058.9C491.1,1059.2 492.2,1059.4 493.4,1058.9C494.6,1058.4 495.6,1056.9 497.0,1056.0C498.4,1055.0 499.8,1053.7 501.8,1053.1C503.9,1052.4 504.7,1052.3 509.1,1052.1C513.5,1051.9 521.2,1052.0 528.5,1052.1C535.7,1052.2 544.6,1052.5 552.7,1052.6C560.7,1052.7 568.8,1052.6 576.8,1052.8C584.9,1053.1 593.0,1053.4 601.0,1054.0C609.1,1054.7 618.6,1055.8 625.0,1056.5C631.4,1057.2 634.7,1057.5 639.5,1058.2C644.4,1058.8 649.2,1059.7 654.0,1060.6C658.9,1061.5 663.7,1062.6 668.6,1063.7C673.4,1064.8 678.6,1065.9 683.1,1067.1C687.5,1068.3 691.9,1069.9 695.2,1071.0C698.4,1072.0 700.2,1073.1 702.4,1073.4C704.6,1073.7 706.5,1072.5 708.5,1072.7C710.5,1072.8 712.5,1073.4 714.5,1074.4C716.5,1075.4 718.8,1077.0 720.6,1078.7C722.4,1080.5 723.8,1082.8 725.4,1084.8C727.0,1086.7 728.6,1088.9 730.3,1090.3C731.9,1091.8 733.3,1092.4 735.1,1093.2C736.9,1094.1 739.5,1094.5 741.1,1095.7C742.8,1096.9 743.6,1098.9 744.8,1100.5C746.0,1102.1 747.0,1103.8 748.4,1105.3C749.8,1106.9 751.6,1108.5 753.2,1109.7C754.9,1110.9 756.7,1111.8 758.1,1112.6C759.5,1113.4 760.5,1114.5 761.7,1114.3C762.9,1114.1 764.1,1112.7 765.3,1111.4C766.6,1110.1 767.8,1107.7 769.0,1106.6C770.2,1105.4 771.2,1105.0 772.6,1104.6C774.0,1104.3 776.0,1103.9 777.4,1104.4C778.9,1104.9 780.1,1106.2 781.1,1107.8C782.1,1109.3 782.7,1111.4 783.5,1113.8C784.3,1116.2 785.1,1120.0 785.9,1122.3C786.7,1124.6 787.5,1127.1 788.3,1127.6C789.1,1128.1 789.9,1125.9 790.8,1125.2C791.6,1124.5 792.2,1123.7 793.2,1123.5C794.2,1123.3 795.7,1123.5 796.8,1124.0C797.9,1124.5 798.7,1125.1 799.7,1126.6C800.7,1128.2 801.7,1130.7 802.9,1133.2C804.0,1135.7 805.4,1138.9 806.5,1141.6C807.6,1144.3 808.5,1147.4 809.4,1149.4C810.3,1151.4 810.9,1153.4 811.8,1153.7C812.7,1154.1 813.9,1152.3 814.9,1151.3C816.0,1150.3 817.1,1148.7 818.1,1147.7C819.1,1146.7 820.0,1146.9 821.0,1145.3C822.0,1143.7 822.8,1140.4 823.9,1138.0C825.0,1135.6 826.4,1132.8 827.8,1130.8C829.1,1128.7 830.4,1127.5 831.9,1125.9C833.4,1124.3 835.1,1122.3 836.7,1121.1C838.3,1119.9 840.0,1119.2 841.6,1118.7C843.2,1118.1 844.6,1118.2 846.4,1117.9C848.2,1117.6 850.6,1117.0 852.5,1117.0C854.3,1117.0 855.5,1117.6 857.3,1117.9C859.1,1118.2 861.5,1118.5 863.3,1118.7C865.2,1118.8 867.0,1119.9 868.2,1118.9C869.4,1117.9 869.9,1114.9 870.6,1112.6C871.3,1110.3 871.9,1105.5 872.5,1104.9C873.1,1104.3 873.6,1106.7 874.2,1109.0C874.8,1111.3 875.4,1116.2 876.2,1118.7C876.9,1121.1 877.7,1121.9 878.6,1123.5C879.5,1125.1 880.4,1126.5 881.5,1128.3C882.6,1130.1 883.9,1132.5 885.1,1134.4C886.3,1136.3 887.5,1138.4 888.8,1139.7C890.0,1141.0 891.2,1141.4 892.4,1142.1C893.6,1142.9 894.8,1143.1 896.0,1144.1C897.2,1145.0 898.4,1145.9 899.6,1147.7C900.8,1149.5 902.1,1152.3 903.3,1154.9C904.5,1157.6 905.7,1160.2 906.9,1163.4C908.1,1166.6 909.3,1170.3 910.5,1174.3C911.7,1178.3 912.9,1182.6 914.2,1187.6C915.4,1192.7 916.6,1198.7 917.8,1204.6C919.0,1210.4 920.2,1217.1 921.4,1222.7C922.6,1228.3 923.8,1233.0 925.0,1238.4C926.3,1243.9 927.5,1249.3 928.7,1255.4C929.9,1261.4 931.1,1267.9 932.3,1274.7C933.5,1281.6 934.8,1289.2 935.9,1296.5C937.1,1303.8 938.1,1310.6 939.1,1318.3C940.1,1325.9 941.2,1334.8 942.0,1342.5C942.8,1350.1 943.5,1356.9 943.8,1364.3C944.1,1371.6 943.6,1380.6 943.8,1386.8C944.0,1393.0 944.5,1397.9 944.9,1401.3C945.3,1404.7 945.8,1407.3 946.3,1407.3C946.9,1407.3 947.3,1405.1 948.0,1401.3C948.7,1397.5 949.6,1390.5 950.5,1384.4C951.3,1378.2 952.1,1371.2 952.9,1364.3C953.7,1357.3 954.3,1350.5 955.3,1342.5C956.3,1334.4 957.7,1324.3 958.9,1315.9C960.1,1307.4 961.3,1298.5 962.6,1291.7C963.8,1284.8 965.2,1280.8 966.2,1274.7C967.2,1268.7 967.8,1262.2 968.6,1255.4C969.4,1248.5 970.2,1240.8 971.0,1233.6C971.8,1226.3 972.6,1217.9 973.4,1211.8C974.2,1205.8 975.1,1202.9 975.9,1197.3C976.7,1191.6 977.5,1184.8 978.3,1177.9C979.1,1171.1 979.9,1162.0 980.7,1156.2C981.5,1150.3 982.3,1145.3 983.1,1142.9C983.9,1140.4 984.7,1141.9 985.5,1141.6C986.3,1141.4 987.2,1143.6 988.0,1141.2C988.8,1138.7 989.4,1132.3 990.4,1127.1C991.4,1122.0 992.8,1115.8 994.0,1110.2C995.2,1104.5 996.4,1098.7 997.6,1093.2C998.8,1087.8 1000.1,1082.6 1001.3,1077.5C1002.5,1072.5 1003.7,1067.2 1004.9,1063.0C1006.1,1058.8 1007.5,1054.2 1008.5,1052.1C1009.5,1050.0 1010.1,1050.0 1010.9,1050.2C1011.8,1050.4 1012.4,1051.4 1013.4,1053.3C1014.3,1055.3 1015.5,1059.9 1016.5,1061.8C1017.5,1063.7 1018.3,1064.3 1019.4,1064.7C1020.5,1065.1 1022.0,1065.3 1023.0,1064.2C1024.1,1063.1 1024.7,1059.9 1025.5,1058.2C1026.3,1056.5 1027.2,1054.2 1027.9,1054.0C1028.6,1053.8 1029.2,1054.9 1029.8,1056.9C1030.4,1059.0 1030.9,1064.0 1031.5,1066.6C1032.1,1069.3 1032.8,1073.5 1033.5,1072.7C1034.1,1071.9 1034.5,1064.6 1035.1,1061.8C1035.7,1059.0 1036.4,1056.5 1037.1,1055.7C1037.8,1054.9 1038.6,1055.1 1039.3,1056.9C1039.9,1058.8 1040.5,1062.6 1041.2,1066.6C1041.9,1070.7 1042.7,1076.1 1043.6,1081.1C1044.5,1086.2 1045.6,1091.2 1046.5,1096.9C1047.4,1102.5 1048.2,1108.0 1048.9,1115.0C1049.7,1122.1 1050.2,1139.2 1050.9,1139.2C1051.5,1139.2 1052.2,1123.9 1052.8,1115.0C1053.4,1106.2 1053.8,1093.2 1054.5,1086.0C1055.2,1078.7 1056.1,1074.9 1056.9,1071.5C1057.7,1068.0 1058.4,1067.6 1059.3,1065.4C1060.3,1063.2 1061.5,1060.1 1062.5,1058.2C1063.5,1056.3 1064.3,1055.0 1065.4,1054.0C1066.5,1053.1 1067.8,1053.1 1069.0,1052.6C1070.2,1052.1 1071.4,1051.0 1072.7,1050.9C1073.9,1050.8 1075.1,1052.1 1076.3,1052.1C1077.5,1052.1 1078.8,1050.7 1079.9,1050.9C1081.0,1051.1 1082.2,1052.3 1082.8,1053.3C1083.4,1054.3 1083.0,1053.3 1083.6,1056.8C1084.2,1060.3 1085.4,1066.6 1086.3,1074.6C1087.2,1082.6 1088.1,1096.7 1088.9,1105.0C1089.7,1113.3 1090.2,1120.9 1091.1,1124.6C1092.0,1128.3 1093.3,1126.4 1094.3,1127.3C1095.3,1128.2 1096.2,1126.9 1097.0,1130.0C1097.8,1133.1 1098.1,1141.3 1098.8,1146.1C1099.5,1150.9 1100.5,1154.7 1101.4,1158.6C1102.3,1162.5 1103.3,1163.9 1104.1,1169.3C1104.8,1174.7 1105.3,1182.7 1105.9,1190.7C1106.5,1198.7 1107.1,1207.1 1107.7,1217.5C1108.3,1227.9 1109.0,1241.3 1109.5,1253.2C1110.0,1265.1 1110.3,1278.5 1110.7,1288.9C1111.1,1299.3 1111.5,1309.5 1111.8,1315.7C1112.1,1322.0 1112.0,1326.7 1112.5,1326.4C1113.0,1326.1 1114.1,1316.3 1114.8,1313.9C1115.5,1311.5 1116.1,1316.3 1116.6,1312.1C1117.1,1307.9 1117.5,1298.7 1117.9,1288.9C1118.4,1279.1 1118.8,1266.6 1119.3,1253.2C1119.8,1239.8 1120.2,1221.4 1120.7,1208.6C1121.2,1195.8 1121.5,1183.9 1122.0,1176.4C1122.5,1169.0 1123.2,1170.5 1123.8,1163.9C1124.4,1157.4 1124.9,1147.5 1125.5,1137.1C1126.1,1126.7 1126.7,1113.3 1127.3,1101.4C1127.9,1089.5 1128.5,1074.5 1129.1,1065.7C1129.7,1056.9 1130.5,1050.3 1130.9,1048.8C1131.4,1047.3 1131.5,1051.6 1131.8,1056.8C1132.1,1062.0 1132.8,1076.1 1133.0,1080.0" fill="none" stroke="#ff2424" stroke-width="2.9" stroke-linejoin="round" stroke-linecap="round"/>
</g>
<clipPath id="clipd"><rect x="1297.7" y="969.1" width="1026.5" height="810.1"/></clipPath>
<g clip-path="url(#clipd)">
<path d="M1297.3,1202.6C1298.5,1202.7 1302.3,1202.9 1304.5,1203.3C1306.7,1203.7 1309.0,1204.0 1310.6,1205.0C1312.2,1206.0 1313.0,1207.3 1314.2,1209.4C1315.4,1211.5 1316.7,1214.2 1317.8,1217.9C1319.0,1221.5 1320.0,1226.1 1321.0,1231.2C1321.9,1236.2 1322.6,1242.1 1323.4,1248.1C1324.2,1254.2 1325.1,1261.0 1325.8,1267.5C1326.5,1273.9 1327.1,1280.8 1327.7,1286.8C1328.4,1292.9 1329.0,1298.9 1329.7,1303.8C1330.3,1308.6 1331.1,1313.0 1331.6,1315.9C1332.2,1318.8 1332.6,1322.4 1333.1,1321.2C1333.6,1320.0 1334.1,1314.3 1334.5,1308.6C1334.9,1302.9 1335.2,1294.1 1335.5,1286.8C1335.8,1279.6 1336.1,1270.9 1336.5,1265.0C1336.8,1259.2 1337.1,1254.6 1337.7,1251.7C1338.2,1248.9 1338.9,1248.3 1339.6,1248.1C1340.3,1247.9 1340.8,1249.5 1342.0,1250.5C1343.2,1251.5 1345.0,1252.9 1346.9,1254.2C1348.7,1255.4 1350.9,1256.5 1352.9,1257.8C1354.9,1259.1 1357.1,1260.7 1359.0,1262.1C1360.8,1263.6 1362.4,1266.1 1363.8,1266.3C1365.2,1266.4 1366.0,1263.9 1367.4,1263.1C1368.8,1262.3 1370.5,1261.9 1372.3,1261.4C1374.1,1260.9 1376.3,1260.2 1378.3,1260.2C1380.3,1260.2 1382.2,1260.6 1384.4,1261.4C1386.6,1262.2 1389.2,1264.0 1391.6,1265.0C1394.0,1266.1 1396.5,1266.9 1398.9,1267.5C1401.3,1268.1 1403.9,1268.5 1406.1,1268.7C1408.4,1268.9 1410.2,1269.0 1412.2,1268.7C1414.2,1268.4 1416.0,1267.9 1418.2,1267.0C1420.5,1266.1 1423.1,1264.6 1425.5,1263.1C1427.9,1261.6 1430.3,1259.7 1432.8,1257.8C1435.2,1255.9 1437.6,1253.6 1440.0,1251.7C1442.4,1249.9 1444.9,1248.3 1447.3,1246.9C1449.7,1245.5 1452.1,1244.4 1454.5,1243.3C1457.0,1242.2 1459.4,1241.6 1461.8,1240.4C1464.2,1239.2 1466.6,1237.5 1469.1,1236.0C1471.5,1234.5 1473.9,1232.9 1476.3,1231.2C1478.7,1229.5 1481.2,1227.5 1483.6,1225.8C1486.0,1224.2 1488.4,1222.5 1490.8,1221.0C1493.3,1219.6 1495.7,1218.3 1498.1,1217.1C1500.5,1216.0 1502.9,1215.0 1505.4,1214.2C1507.8,1213.4 1510.2,1212.7 1512.6,1212.3C1515.0,1211.9 1517.7,1211.8 1519.9,1211.8C1522.1,1211.8 1524.3,1211.7 1525.9,1212.3C1527.5,1212.9 1528.1,1215.2 1529.6,1215.4C1531.0,1215.7 1532.8,1214.2 1534.4,1213.7C1536.0,1213.3 1537.8,1212.7 1539.2,1213.0C1540.6,1213.3 1541.7,1213.8 1542.9,1215.4C1544.0,1217.1 1545.0,1219.9 1546.0,1222.7C1547.0,1225.5 1547.9,1229.4 1548.9,1232.4C1549.9,1235.4 1550.9,1237.0 1551.8,1240.8C1552.7,1244.7 1553.5,1250.1 1554.2,1255.4C1555.0,1260.6 1555.5,1267.8 1556.2,1272.3C1556.8,1276.8 1557.5,1280.9 1558.1,1282.5C1558.8,1284.1 1559.4,1284.9 1560.0,1282.0C1560.7,1279.1 1561.3,1271.5 1562.0,1265.0C1562.7,1258.6 1563.6,1249.3 1564.4,1243.3C1565.2,1237.2 1566.1,1232.3 1567.1,1228.8C1568.0,1225.2 1569.2,1223.3 1570.2,1222.0C1571.2,1220.7 1572.2,1220.5 1573.1,1221.0C1574.0,1221.5 1574.7,1222.6 1575.5,1225.1C1576.3,1227.6 1577.3,1232.2 1577.9,1236.0C1578.6,1239.8 1579.1,1245.4 1579.6,1248.1C1580.2,1250.9 1580.6,1253.3 1581.1,1252.5C1581.6,1251.7 1582.2,1248.4 1582.8,1243.3C1583.4,1238.1 1584.1,1227.5 1584.7,1221.5C1585.4,1215.4 1585.9,1210.4 1586.7,1207.0C1587.4,1203.5 1588.1,1202.3 1589.1,1200.9C1590.0,1199.5 1590.7,1199.1 1592.5,1198.5C1594.2,1197.9 1596.1,1197.7 1599.7,1197.5C1603.4,1197.3 1609.4,1197.4 1614.2,1197.3C1619.1,1197.2 1624.7,1196.8 1628.8,1196.8C1632.8,1196.8 1635.8,1196.9 1638.4,1197.3C1641.1,1197.7 1642.8,1198.6 1644.5,1199.2C1646.2,1199.8 1647.3,1201.0 1648.6,1200.9C1649.9,1200.8 1651.0,1199.0 1652.2,1198.5C1653.4,1198.0 1654.5,1197.6 1655.9,1197.8C1657.2,1198.0 1658.5,1199.0 1660.2,1199.7C1662.0,1200.4 1664.3,1200.8 1666.3,1202.1C1668.3,1203.4 1670.5,1206.0 1672.3,1207.5C1674.1,1208.9 1675.9,1210.2 1677.2,1210.6C1678.4,1211.0 1679.1,1210.9 1680.1,1209.9C1681.1,1208.9 1682.1,1206.2 1683.2,1204.6C1684.3,1202.9 1685.4,1200.8 1686.8,1199.7C1688.2,1198.6 1689.3,1198.3 1691.7,1197.8C1694.1,1197.3 1696.5,1197.2 1701.4,1196.8C1706.2,1196.4 1716.9,1195.8 1720.7,1195.4C1724.5,1194.9 1723.1,1193.9 1724.3,1193.9C1725.6,1193.9 1723.7,1195.2 1728.0,1195.4C1732.2,1195.6 1742.1,1195.0 1749.7,1195.1C1757.4,1195.2 1765.9,1195.7 1773.9,1196.1C1782.0,1196.4 1792.1,1196.9 1798.1,1197.3C1804.2,1197.7 1806.4,1197.9 1810.0,1198.5C1813.6,1199.1 1816.5,1200.1 1819.7,1200.9C1822.9,1201.7 1826.1,1202.3 1829.4,1203.3C1832.6,1204.4 1835.8,1205.6 1839.0,1207.0C1842.3,1208.3 1845.5,1209.7 1848.7,1211.3C1851.9,1212.9 1855.2,1214.9 1858.4,1216.7C1861.6,1218.4 1864.8,1220.3 1868.1,1222.0C1871.3,1223.7 1875.1,1225.4 1877.8,1226.8C1880.4,1228.3 1882.0,1229.5 1883.8,1230.7C1885.6,1231.9 1887.2,1233.8 1888.6,1234.1C1890.1,1234.4 1890.9,1232.8 1892.3,1232.4C1893.7,1232.0 1895.5,1231.3 1897.1,1231.7C1898.7,1232.1 1900.1,1233.7 1901.9,1234.8C1903.8,1235.9 1906.0,1237.0 1908.0,1238.4C1910.0,1239.8 1912.0,1241.5 1914.0,1243.3C1916.1,1245.1 1918.1,1246.9 1920.1,1249.3C1922.1,1251.7 1924.3,1255.0 1926.1,1257.8C1928.0,1260.6 1929.4,1263.4 1931.0,1266.3C1932.6,1269.1 1934.2,1272.4 1935.8,1274.7C1937.4,1277.1 1939.1,1279.0 1940.7,1280.3C1942.3,1281.6 1944.0,1281.4 1945.5,1282.5C1947.0,1283.6 1948.7,1286.9 1949.9,1286.8C1951.1,1286.7 1951.8,1284.3 1952.8,1282.0C1953.7,1279.6 1954.7,1274.9 1955.7,1272.8C1956.7,1270.7 1957.7,1269.7 1958.8,1269.4C1959.9,1269.1 1961.2,1270.0 1962.4,1271.1C1963.7,1272.2 1964.8,1274.1 1966.1,1275.9C1967.4,1277.8 1968.8,1279.8 1970.2,1282.0C1971.6,1284.2 1973.0,1286.4 1974.5,1289.2C1976.1,1292.1 1978.0,1295.7 1979.4,1298.9C1980.8,1302.1 1981.8,1305.0 1983.0,1308.6C1984.2,1312.2 1985.4,1316.7 1986.6,1320.7C1987.9,1324.7 1989.1,1329.7 1990.3,1332.8C1991.5,1335.9 1992.7,1338.2 1993.9,1339.6C1995.1,1341.0 1996.3,1341.0 1997.5,1341.3C1998.7,1341.6 1999.8,1341.0 2001.2,1341.3C2002.5,1341.6 2004.3,1344.0 2005.5,1343.0C2006.7,1342.0 2007.4,1338.1 2008.4,1335.2C2009.4,1332.3 2010.2,1328.2 2011.3,1325.5C2012.5,1322.9 2013.7,1321.3 2015.2,1319.5C2016.7,1317.7 2018.6,1315.9 2020.5,1314.7C2022.4,1313.4 2024.5,1312.8 2026.6,1312.2C2028.6,1311.7 2030.6,1311.6 2032.6,1311.5C2034.6,1311.4 2036.6,1311.3 2038.7,1311.7C2040.7,1312.2 2042.7,1312.9 2044.7,1313.9C2046.7,1314.9 2048.7,1316.3 2050.8,1317.8C2052.8,1319.3 2055.0,1321.2 2056.8,1323.1C2058.6,1325.0 2060.0,1326.7 2061.7,1329.2C2063.3,1331.6 2065.0,1334.4 2066.5,1337.6C2068.0,1340.9 2069.6,1344.9 2070.8,1348.5C2072.1,1352.2 2073.1,1356.7 2073.8,1359.4C2074.4,1362.2 2074.2,1362.1 2075.0,1365.0C2075.8,1367.9 2077.3,1373.3 2078.6,1377.1C2079.9,1380.9 2081.5,1384.2 2082.9,1388.0C2084.4,1391.8 2085.8,1395.9 2087.1,1400.1C2088.3,1404.3 2089.3,1408.0 2090.2,1413.4C2091.1,1418.8 2091.8,1425.9 2092.6,1432.8C2093.4,1439.6 2094.2,1447.3 2095.0,1454.5C2095.9,1461.8 2096.7,1468.6 2097.5,1476.3C2098.3,1484.0 2099.2,1492.8 2099.9,1500.5C2100.6,1508.2 2101.2,1515.4 2101.8,1522.3C2102.5,1529.1 2103.1,1535.6 2103.8,1541.6C2104.4,1547.7 2105.0,1553.3 2105.7,1558.6C2106.4,1563.8 2107.2,1567.9 2108.1,1573.1C2109.0,1578.3 2110.3,1584.4 2111.3,1590.0C2112.2,1595.7 2112.7,1600.9 2113.7,1607.0C2114.6,1613.0 2115.8,1620.3 2116.8,1626.3C2117.8,1632.4 2118.8,1637.2 2119.7,1643.3C2120.6,1649.3 2121.3,1656.2 2122.1,1662.6C2123.0,1669.1 2124.0,1675.1 2125.0,1682.0C2126.1,1688.8 2127.3,1697.7 2128.2,1703.8C2129.1,1709.8 2129.9,1714.9 2130.6,1718.3C2131.3,1721.7 2131.7,1724.1 2132.3,1724.3C2132.9,1724.5 2133.4,1722.5 2134.2,1719.5C2135.1,1716.5 2136.1,1711.2 2137.1,1706.2C2138.2,1701.1 2139.2,1695.3 2140.3,1689.2C2141.3,1683.2 2142.4,1676.3 2143.4,1669.9C2144.4,1663.4 2145.5,1657.0 2146.3,1650.5C2147.2,1644.1 2148.0,1636.8 2148.8,1631.2C2149.5,1625.5 2150.1,1620.1 2150.7,1616.7C2151.3,1613.2 2151.8,1612.2 2152.4,1610.6C2153.0,1609.0 2153.6,1610.0 2154.1,1607.0C2154.6,1603.9 2155.1,1598.5 2155.5,1592.5C2156.0,1586.4 2156.5,1578.7 2157.0,1570.7C2157.5,1562.6 2157.9,1552.5 2158.4,1544.1C2159.0,1535.6 2159.7,1527.9 2160.4,1519.9C2161.0,1511.8 2161.7,1503.7 2162.3,1495.7C2162.9,1487.6 2163.3,1480.3 2163.8,1471.5C2164.2,1462.6 2164.7,1452.1 2165.2,1442.4C2165.7,1432.8 2166.2,1422.3 2166.7,1413.4C2167.2,1404.5 2167.5,1397.3 2168.1,1389.2C2168.8,1381.1 2169.8,1370.4 2170.5,1365.0C2171.3,1359.6 2171.7,1360.7 2172.5,1357.0C2173.2,1353.2 2174.1,1348.9 2174.9,1342.5C2175.7,1336.0 2176.5,1327.2 2177.3,1318.3C2178.1,1309.4 2178.9,1298.9 2179.7,1289.2C2180.5,1279.6 2181.3,1269.5 2182.2,1260.2C2183.0,1250.9 2183.8,1240.8 2184.6,1233.6C2185.4,1226.3 2186.1,1220.7 2187.0,1216.7C2187.9,1212.6 2188.8,1211.2 2189.9,1209.4C2191.0,1207.6 2192.4,1206.2 2193.5,1205.8C2194.7,1205.4 2195.7,1207.4 2196.7,1207.0C2197.7,1206.6 2198.5,1204.6 2199.6,1203.3C2200.7,1202.1 2202.1,1200.6 2203.2,1199.7C2204.3,1198.8 2205.4,1197.2 2206.4,1197.8C2207.3,1198.4 2208.1,1201.0 2208.8,1203.3C2209.5,1205.7 2209.9,1211.6 2210.5,1211.8C2211.0,1212.0 2211.6,1208.2 2212.2,1204.6C2212.7,1200.9 2213.1,1193.2 2213.6,1190.0C2214.1,1186.9 2214.7,1185.3 2215.3,1185.7C2215.9,1186.1 2216.5,1188.1 2217.0,1192.5C2217.5,1196.8 2218.0,1207.0 2218.5,1211.8C2218.9,1216.7 2219.3,1221.9 2219.7,1221.5C2220.1,1221.1 2220.4,1213.8 2220.9,1209.4C2221.4,1205.0 2222.0,1197.6 2222.6,1194.9C2223.1,1192.1 2223.7,1191.7 2224.3,1192.9C2224.9,1194.1 2225.5,1196.6 2226.2,1202.1C2226.8,1207.7 2227.5,1216.7 2228.1,1226.3C2228.8,1236.0 2229.4,1248.1 2230.1,1260.2C2230.8,1272.3 2231.6,1286.0 2232.2,1298.9C2232.9,1311.8 2233.7,1326.7 2234.2,1337.6C2234.7,1348.5 2235.1,1359.7 2235.4,1364.3C2235.7,1368.8 2235.6,1360.8 2235.9,1365.0C2236.2,1369.2 2236.7,1389.2 2237.1,1389.2C2237.5,1389.2 2237.8,1371.2 2238.3,1365.0C2238.7,1358.8 2239.3,1362.4 2239.7,1352.2C2240.2,1342.0 2240.6,1317.9 2241.2,1303.8C2241.8,1289.6 2242.4,1278.4 2243.1,1267.5C2243.9,1256.6 2244.7,1247.7 2245.6,1238.4C2246.4,1229.2 2247.2,1218.9 2248.0,1211.8C2248.8,1204.8 2249.6,1199.1 2250.4,1196.1C2251.2,1193.1 2252.0,1192.7 2252.8,1193.7C2253.6,1194.7 2254.4,1200.9 2255.2,1202.1C2256.0,1203.3 2256.8,1202.1 2257.7,1200.9C2258.5,1199.7 2259.6,1196.5 2260.6,1194.9C2261.5,1193.3 2262.4,1192.1 2263.2,1191.2C2264.0,1190.4 2264.7,1189.0 2265.4,1190.0C2266.1,1191.0 2266.6,1192.5 2267.3,1197.3C2268.1,1202.1 2268.9,1209.4 2269.7,1219.1C2270.6,1228.8 2271.4,1241.3 2272.2,1255.4C2273.0,1269.5 2273.9,1288.4 2274.6,1303.8C2275.3,1319.1 2276.1,1336.3 2276.5,1347.3C2276.9,1358.3 2276.7,1363.7 2277.0,1369.8C2277.3,1376.0 2277.6,1380.5 2278.2,1384.4C2278.8,1388.2 2279.8,1388.0 2280.6,1392.8C2281.4,1397.7 2282.3,1405.9 2283.1,1413.4C2283.9,1420.9 2284.7,1429.9 2285.5,1437.6C2286.3,1445.3 2287.1,1452.5 2287.9,1459.4C2288.7,1466.2 2289.6,1471.1 2290.3,1478.7C2291.0,1486.4 2291.5,1496.1 2292.0,1505.3C2292.5,1514.6 2293.0,1524.7 2293.5,1534.4C2293.9,1544.1 2294.3,1553.7 2294.7,1563.4C2295.1,1573.1 2295.5,1582.8 2295.9,1592.5C2296.3,1602.1 2296.7,1611.8 2297.1,1621.5C2297.5,1631.2 2297.9,1643.1 2298.3,1650.5C2298.7,1658.0 2298.8,1664.4 2299.3,1666.3C2299.8,1668.1 2300.6,1662.6 2301.2,1661.4C2301.9,1660.2 2302.6,1662.0 2303.1,1659.0C2303.7,1656.0 2303.9,1650.3 2304.4,1643.3C2304.8,1636.2 2305.2,1625.9 2305.6,1616.7C2305.9,1607.4 2306.2,1597.3 2306.5,1587.6C2306.9,1577.9 2307.2,1569.1 2307.5,1558.6C2307.8,1548.1 2308.1,1536.0 2308.5,1524.7C2308.8,1513.4 2309.0,1502.1 2309.4,1490.8C2309.8,1479.5 2310.4,1468.2 2310.9,1456.9C2311.4,1445.7 2312.0,1434.4 2312.3,1423.1C2312.7,1411.8 2313.0,1398.9 2313.1,1389.2C2313.3,1379.5 2313.1,1379.2 2313.1,1365.0C2313.1,1350.8 2313.0,1324.1 2313.1,1303.8C2313.3,1283.5 2313.4,1260.6 2313.8,1243.3C2314.2,1225.9 2315.2,1208.8 2315.7,1199.7C2316.3,1190.6 2316.7,1189.2 2317.2,1188.8C2317.7,1188.4 2318.1,1192.3 2318.6,1197.3C2319.1,1202.3 2319.7,1209.4 2320.1,1219.1C2320.5,1228.8 2320.9,1249.3 2321.0,1255.4" fill="none" stroke="#383838" stroke-width="2.9" stroke-linejoin="round" stroke-linecap="round"/>
<path d="M1297.3,1053.3C1298.5,1053.6 1302.1,1054.1 1304.5,1055.0C1306.9,1055.9 1309.8,1057.2 1311.8,1058.9C1313.8,1060.6 1315.2,1062.5 1316.6,1065.4C1318.0,1068.3 1319.0,1071.7 1320.2,1076.3C1321.5,1080.9 1322.7,1087.2 1323.9,1093.2C1325.1,1099.3 1326.4,1106.6 1327.5,1112.6C1328.6,1118.7 1329.7,1125.3 1330.7,1129.5C1331.6,1133.8 1332.4,1138.8 1333.1,1138.0C1333.8,1137.2 1334.2,1131.8 1334.8,1124.7C1335.3,1117.6 1335.9,1102.5 1336.5,1095.7C1337.0,1088.8 1337.2,1085.9 1337.9,1083.6C1338.6,1081.2 1339.5,1081.6 1340.8,1081.6C1342.1,1081.6 1343.8,1082.8 1345.7,1083.6C1347.5,1084.4 1349.7,1085.3 1351.7,1086.5C1353.7,1087.6 1355.7,1089.0 1357.8,1090.3C1359.8,1091.7 1361.8,1094.1 1363.8,1094.5C1365.8,1094.9 1368.0,1093.2 1369.9,1092.8C1371.7,1092.4 1372.7,1092.0 1374.7,1092.0C1376.7,1092.1 1379.5,1092.6 1381.9,1093.2C1384.4,1093.9 1386.8,1095.1 1389.2,1096.1C1391.6,1097.2 1394.0,1098.4 1396.5,1099.3C1398.9,1100.1 1401.3,1100.8 1403.7,1101.2C1406.1,1101.6 1408.6,1101.8 1411.0,1101.7C1413.4,1101.6 1415.8,1101.2 1418.2,1100.5C1420.7,1099.8 1423.1,1098.8 1425.5,1097.6C1427.9,1096.4 1430.3,1094.7 1432.8,1093.2C1435.2,1091.8 1437.6,1090.2 1440.0,1088.9C1442.4,1087.6 1444.9,1086.4 1447.3,1085.5C1449.7,1084.6 1452.1,1084.2 1454.5,1083.6C1457.0,1082.9 1459.4,1082.4 1461.8,1081.6C1464.2,1080.9 1466.6,1080.3 1469.1,1079.2C1471.5,1078.2 1473.9,1076.6 1476.3,1075.3C1478.7,1074.0 1481.2,1072.7 1483.6,1071.5C1486.0,1070.2 1488.4,1068.9 1490.8,1067.8C1493.3,1066.7 1495.7,1065.7 1498.1,1064.9C1500.5,1064.2 1502.9,1063.7 1505.4,1063.2C1507.8,1062.8 1510.2,1062.5 1512.6,1062.3C1515.0,1062.0 1517.9,1061.9 1519.9,1061.8C1521.9,1061.7 1523.1,1061.3 1524.7,1061.8C1526.3,1062.3 1527.9,1064.4 1529.6,1064.7C1531.2,1065.0 1532.8,1063.8 1534.4,1063.7C1536.0,1063.6 1537.8,1063.7 1539.2,1064.2C1540.6,1064.7 1541.7,1065.4 1542.9,1066.6C1544.1,1067.8 1545.3,1069.3 1546.5,1071.5C1547.7,1073.7 1549.0,1076.7 1550.1,1079.9C1551.3,1083.2 1552.3,1087.0 1553.3,1090.8C1554.2,1094.7 1555.0,1099.8 1555.7,1102.9C1556.4,1106.1 1557.0,1108.5 1557.6,1109.7C1558.3,1110.9 1558.9,1111.7 1559.6,1110.2C1560.2,1108.7 1560.8,1104.5 1561.5,1100.5C1562.2,1096.5 1563.0,1090.2 1563.9,1086.0C1564.8,1081.8 1566.0,1077.6 1567.1,1075.1C1568.1,1072.6 1569.2,1071.9 1570.2,1071.0C1571.2,1070.1 1572.2,1069.3 1573.1,1069.5C1574.0,1069.8 1574.7,1070.9 1575.5,1072.7C1576.3,1074.4 1577.2,1077.8 1577.9,1079.9C1578.7,1082.1 1579.3,1084.5 1579.9,1085.5C1580.4,1086.5 1580.8,1087.5 1581.3,1086.0C1581.9,1084.5 1582.6,1080.3 1583.3,1076.3C1583.9,1072.3 1584.5,1065.4 1585.2,1061.8C1585.9,1058.2 1586.6,1056.3 1587.6,1054.5C1588.6,1052.8 1589.6,1052.1 1591.3,1051.4C1592.9,1050.7 1594.3,1050.5 1597.3,1050.2C1600.3,1049.9 1605.0,1049.6 1609.4,1049.4C1613.8,1049.3 1619.5,1049.2 1623.9,1049.2C1628.4,1049.2 1632.8,1049.2 1636.0,1049.4C1639.2,1049.7 1641.3,1050.4 1643.3,1050.9C1645.2,1051.4 1646.2,1052.6 1647.6,1052.6C1649.0,1052.6 1650.5,1051.3 1651.7,1050.9C1653.0,1050.5 1654.0,1049.8 1655.4,1049.9C1656.8,1050.1 1658.4,1050.9 1660.2,1051.6C1662.0,1052.3 1664.3,1052.8 1666.3,1054.0C1668.3,1055.3 1670.5,1057.6 1672.3,1058.9C1674.1,1060.2 1675.9,1061.4 1677.2,1061.8C1678.4,1062.2 1679.1,1062.3 1680.1,1061.3C1681.1,1060.3 1682.1,1057.4 1683.2,1055.7C1684.3,1054.1 1685.4,1052.6 1686.8,1051.6C1688.2,1050.7 1689.3,1050.3 1691.7,1049.9C1694.1,1049.5 1696.1,1049.4 1701.4,1049.2C1706.6,1049.0 1717.1,1048.7 1723.1,1048.7C1729.2,1048.8 1731.2,1049.4 1737.7,1049.4C1744.1,1049.5 1753.8,1049.2 1761.8,1049.2C1769.9,1049.2 1778.0,1049.3 1786.0,1049.7C1794.1,1050.1 1804.0,1050.8 1810.0,1051.6C1816.0,1052.4 1818.1,1053.4 1822.1,1054.5C1826.1,1055.6 1830.2,1056.9 1834.2,1058.2C1838.2,1059.5 1842.3,1060.7 1846.3,1062.3C1850.3,1063.9 1854.4,1065.9 1858.4,1067.8C1862.4,1069.8 1866.9,1072.0 1870.5,1073.9C1874.1,1075.8 1877.6,1077.6 1880.2,1079.2C1882.8,1080.8 1884.4,1082.4 1886.2,1083.6C1888.0,1084.7 1889.6,1085.9 1891.1,1086.0C1892.5,1086.1 1893.5,1084.3 1894.7,1084.1C1895.9,1083.8 1896.9,1084.1 1898.3,1084.8C1899.7,1085.5 1901.5,1086.8 1903.2,1088.4C1904.8,1090.0 1906.6,1092.2 1908.0,1094.5C1909.4,1096.7 1910.4,1099.1 1911.6,1101.7C1912.8,1104.3 1914.0,1107.8 1915.3,1110.2C1916.5,1112.6 1917.5,1114.6 1918.9,1116.2C1920.3,1117.8 1922.1,1118.5 1923.7,1119.9C1925.3,1121.3 1927.2,1122.5 1928.6,1124.7C1930.0,1126.9 1931.0,1130.5 1932.2,1133.2C1933.4,1135.8 1934.4,1138.1 1935.8,1140.4C1937.2,1142.7 1939.1,1145.1 1940.7,1147.0C1942.2,1148.9 1943.7,1150.9 1945.0,1151.8C1946.3,1152.7 1947.3,1153.1 1948.4,1152.5C1949.5,1152.0 1950.4,1149.9 1951.6,1148.4C1952.7,1146.9 1954.0,1144.7 1955.2,1143.6C1956.4,1142.4 1957.6,1141.8 1958.8,1141.6C1960.0,1141.4 1961.2,1141.8 1962.4,1142.4C1963.7,1143.0 1964.9,1143.4 1966.1,1145.3C1967.2,1147.2 1968.2,1149.9 1969.2,1153.7C1970.2,1157.6 1971.2,1164.0 1972.1,1168.3C1973.0,1172.5 1973.7,1177.9 1974.5,1179.1C1975.3,1180.4 1976.2,1176.4 1977.0,1175.5C1977.8,1174.6 1978.5,1173.5 1979.4,1173.6C1980.3,1173.7 1981.3,1175.1 1982.3,1176.0C1983.3,1176.9 1984.4,1177.2 1985.4,1179.1C1986.5,1181.1 1987.6,1184.2 1988.6,1187.6C1989.6,1191.0 1990.5,1195.3 1991.5,1199.7C1992.4,1204.1 1993.5,1210.2 1994.4,1214.2C1995.3,1218.3 1995.9,1222.4 1996.8,1223.9C1997.7,1225.4 1998.9,1224.2 1999.9,1223.4C2001.0,1222.7 2002.1,1220.3 2003.1,1219.6C2004.1,1218.8 2005.1,1220.8 2006.0,1219.1C2006.9,1217.4 2007.5,1213.0 2008.4,1209.4C2009.3,1205.8 2010.3,1200.7 2011.3,1197.3C2012.3,1193.9 2013.3,1191.4 2014.5,1188.8C2015.6,1186.2 2016.7,1184.0 2018.1,1181.6C2019.5,1179.1 2021.3,1176.3 2022.9,1174.3C2024.5,1172.3 2026.2,1170.8 2027.8,1169.5C2029.4,1168.2 2030.8,1167.2 2032.6,1166.6C2034.4,1165.9 2036.6,1165.4 2038.7,1165.4C2040.7,1165.3 2042.7,1165.9 2044.7,1166.3C2046.7,1166.7 2049.1,1167.5 2050.8,1167.8C2052.4,1168.0 2053.5,1168.7 2054.4,1167.8C2055.3,1166.8 2055.7,1163.8 2056.3,1162.2C2057.0,1160.6 2057.7,1158.5 2058.3,1158.1C2058.9,1157.7 2059.4,1158.1 2060.0,1159.8C2060.5,1161.5 2061.0,1166.0 2061.7,1168.3C2062.3,1170.5 2063.2,1171.3 2064.1,1173.1C2065.0,1174.9 2066.0,1176.9 2067.0,1179.1C2068.0,1181.4 2069.1,1183.8 2070.1,1186.4C2071.2,1189.0 2072.3,1192.5 2073.3,1194.9C2074.3,1197.3 2075.1,1199.5 2076.2,1200.9C2077.3,1202.3 2078.6,1202.1 2079.8,1203.3C2081.0,1204.6 2082.2,1206.0 2083.4,1208.2C2084.6,1210.4 2085.8,1213.2 2087.1,1216.7C2088.3,1220.1 2089.5,1224.3 2090.7,1228.8C2091.9,1233.2 2093.2,1238.0 2094.3,1243.3C2095.4,1248.5 2096.5,1254.2 2097.5,1260.2C2098.5,1266.3 2099.4,1273.1 2100.4,1279.6C2101.3,1286.0 2102.3,1292.5 2103.3,1298.9C2104.3,1305.4 2105.3,1311.8 2106.4,1318.3C2107.5,1324.7 2109.0,1331.2 2110.0,1337.6C2111.1,1344.1 2112.3,1352.4 2113.0,1357.0C2113.6,1361.6 2113.0,1360.8 2113.7,1365.0C2114.4,1369.2 2116.2,1376.3 2117.3,1381.9C2118.4,1387.6 2119.3,1392.8 2120.2,1398.9C2121.1,1404.9 2121.9,1411.4 2122.9,1418.2C2123.8,1425.1 2124.9,1433.2 2125.8,1440.0C2126.7,1446.9 2127.5,1453.7 2128.2,1459.4C2128.9,1465.0 2129.3,1469.9 2129.9,1473.9C2130.5,1477.9 2131.3,1481.8 2131.8,1483.6C2132.4,1485.4 2132.8,1485.6 2133.3,1484.8C2133.8,1484.0 2134.3,1481.8 2135.0,1478.7C2135.6,1475.7 2136.3,1471.9 2137.1,1466.6C2138.0,1461.4 2139.2,1453.7 2140.3,1447.3C2141.3,1440.8 2142.4,1434.4 2143.4,1427.9C2144.4,1421.5 2145.4,1415.0 2146.3,1408.6C2147.3,1402.1 2148.2,1394.8 2149.2,1389.2C2150.3,1383.6 2151.6,1378.7 2152.4,1374.7C2153.2,1370.6 2153.4,1372.8 2154.1,1365.0C2154.8,1357.2 2155.7,1338.2 2156.5,1328.0C2157.3,1317.8 2158.1,1311.8 2158.9,1303.8C2159.7,1295.7 2160.5,1288.4 2161.3,1279.6C2162.2,1270.7 2163.0,1260.2 2163.8,1250.5C2164.6,1240.8 2165.5,1229.8 2166.2,1221.5C2166.9,1213.2 2167.5,1205.2 2168.1,1200.9C2168.7,1196.7 2169.2,1196.3 2169.8,1196.1C2170.4,1195.9 2171.1,1199.3 2171.7,1199.7C2172.4,1200.1 2172.8,1202.1 2173.4,1198.5C2174.0,1194.9 2174.7,1185.0 2175.4,1177.9C2176.1,1170.9 2176.9,1163.4 2177.8,1156.2C2178.7,1148.9 2179.7,1141.6 2180.7,1134.4C2181.7,1127.1 2182.8,1119.9 2183.8,1112.6C2184.9,1105.3 2186.0,1097.7 2187.0,1090.8C2188.0,1084.0 2188.9,1077.1 2189.9,1071.5C2190.9,1065.8 2191.9,1060.7 2192.8,1056.9C2193.7,1053.2 2194.6,1050.6 2195.5,1049.2C2196.3,1047.8 2197.0,1048.0 2197.9,1048.5C2198.8,1049.0 2199.8,1050.8 2200.8,1052.1C2201.8,1053.4 2202.9,1055.6 2203.9,1056.5C2204.9,1057.4 2206.0,1056.5 2206.8,1057.4C2207.6,1058.3 2208.2,1060.7 2208.8,1061.8C2209.4,1062.8 2209.9,1064.5 2210.5,1063.7C2211.0,1062.9 2211.6,1059.9 2212.2,1056.9C2212.7,1054.0 2213.1,1048.5 2213.6,1046.1C2214.1,1043.6 2214.8,1042.0 2215.3,1042.4C2215.8,1042.8 2216.3,1044.0 2216.8,1048.5C2217.2,1052.9 2217.5,1063.2 2218.0,1069.0C2218.4,1074.9 2218.9,1083.6 2219.4,1083.6C2219.9,1083.6 2220.4,1074.3 2220.9,1069.0C2221.4,1063.8 2221.8,1055.8 2222.3,1052.1C2222.8,1048.4 2223.5,1047.4 2224.0,1046.8C2224.6,1046.2 2225.1,1046.0 2225.7,1048.5C2226.3,1051.0 2226.8,1055.5 2227.4,1061.8C2228.0,1068.0 2228.7,1077.5 2229.3,1086.0C2230.0,1094.5 2230.8,1103.7 2231.5,1112.6C2232.3,1121.5 2233.2,1129.5 2233.9,1139.2C2234.7,1148.9 2235.3,1161.4 2235.9,1170.7C2236.4,1180.0 2236.8,1194.5 2237.3,1194.9C2237.8,1195.3 2238.3,1183.2 2238.8,1173.1C2239.3,1163.0 2239.7,1147.3 2240.2,1134.4C2240.8,1121.5 2241.4,1105.3 2241.9,1095.7C2242.5,1086.0 2242.9,1080.9 2243.6,1076.3C2244.3,1071.7 2245.2,1070.9 2246.0,1067.8C2246.8,1064.8 2247.6,1061.2 2248.5,1058.2C2249.3,1055.1 2250.1,1051.4 2250.9,1049.7C2251.7,1048.0 2252.4,1047.8 2253.3,1048.0C2254.2,1048.2 2255.4,1050.6 2256.4,1050.9C2257.5,1051.2 2258.6,1050.4 2259.6,1049.7C2260.6,1049.0 2261.6,1047.4 2262.5,1046.8C2263.4,1046.2 2264.1,1045.7 2264.9,1046.1C2265.7,1046.5 2266.5,1046.6 2267.3,1049.2C2268.1,1051.8 2268.9,1055.7 2269.7,1061.8C2270.6,1067.9 2271.4,1076.3 2272.2,1086.0C2273.0,1095.7 2273.8,1108.2 2274.6,1119.9C2275.4,1131.6 2276.3,1146.5 2277.0,1156.2C2277.7,1165.8 2278.2,1173.1 2278.9,1177.9C2279.7,1182.8 2280.6,1181.2 2281.4,1185.2C2282.2,1189.2 2283.0,1196.5 2283.8,1202.1C2284.6,1207.8 2285.4,1214.6 2286.2,1219.1C2287.0,1223.5 2287.8,1223.9 2288.6,1228.8C2289.4,1233.6 2290.2,1239.6 2291.0,1248.1C2291.8,1256.6 2292.7,1268.3 2293.5,1279.6C2294.2,1290.9 2295.3,1304.6 2295.7,1315.9C2296.1,1327.2 2295.7,1339.1 2295.7,1347.3C2295.7,1355.5 2295.7,1358.8 2295.7,1365.0C2295.7,1371.2 2295.6,1377.5 2295.7,1384.4C2295.8,1391.2 2296.0,1399.9 2296.4,1406.1C2296.7,1412.4 2297.3,1420.7 2297.8,1421.9C2298.3,1423.1 2298.7,1415.4 2299.3,1413.4C2299.8,1411.4 2300.6,1411.2 2301.2,1409.8C2301.9,1408.4 2302.6,1408.4 2303.1,1404.9C2303.7,1401.5 2303.9,1395.9 2304.4,1389.2C2304.8,1382.5 2305.0,1375.2 2305.6,1365.0C2306.2,1354.8 2307.3,1344.2 2308.0,1328.0C2308.7,1311.7 2309.3,1287.6 2309.9,1267.5C2310.6,1247.3 2311.2,1229.2 2311.9,1207.0C2312.5,1184.8 2313.1,1157.8 2313.8,1134.4C2314.4,1111.0 2315.2,1082.4 2315.7,1066.6C2316.3,1050.9 2316.7,1043.6 2317.2,1040.0C2317.7,1036.4 2318.1,1041.2 2318.6,1044.9C2319.1,1048.5 2319.7,1054.1 2320.1,1061.8C2320.5,1069.5 2320.9,1086.0 2321.0,1090.8" fill="none" stroke="#ff2424" stroke-width="2.9" stroke-linejoin="round" stroke-linecap="round"/>
</g>
<rect x="113.5" y="33.5" width="1029.5" height="812.7" fill="none" stroke="#000" stroke-width="5.8"/>
<line x1="1113.0" y1="844.2" x2="1113.0" y2="832.7" stroke="#000" stroke-width="5"/>
<text x="1113.0" y="894.2" font-size="42" class="fb12" text-anchor="middle" textLength="58.5" lengthAdjust="spacingAndGlyphs">500</text>
<line x1="961.4" y1="844.2" x2="961.4" y2="832.7" stroke="#000" stroke-width="5"/>
<text x="961.4" y="894.2" font-size="42" class="fb12" text-anchor="middle" textLength="79.0" lengthAdjust="spacingAndGlyphs">1000</text>
<line x1="809.7" y1="844.2" x2="809.7" y2="832.7" stroke="#000" stroke-width="5"/>
<text x="809.7" y="894.2" font-size="42" class="fb12" text-anchor="middle" textLength="79.0" lengthAdjust="spacingAndGlyphs">1500</text>
<line x1="658.1" y1="844.2" x2="658.1" y2="832.7" stroke="#000" stroke-width="5"/>
<text x="658.1" y="894.2" font-size="42" class="fb12" text-anchor="middle" textLength="79.0" lengthAdjust="spacingAndGlyphs">2000</text>
<line x1="506.5" y1="844.2" x2="506.5" y2="832.7" stroke="#000" stroke-width="5"/>
<text x="506.5" y="894.2" font-size="42" class="fb12" text-anchor="middle" textLength="79.0" lengthAdjust="spacingAndGlyphs">2500</text>
<line x1="354.8" y1="844.2" x2="354.8" y2="832.7" stroke="#000" stroke-width="5"/>
<text x="354.8" y="894.2" font-size="42" class="fb12" text-anchor="middle" textLength="79.0" lengthAdjust="spacingAndGlyphs">3000</text>
<line x1="203.2" y1="844.2" x2="203.2" y2="832.7" stroke="#000" stroke-width="5"/>
<text x="203.2" y="894.2" font-size="42" class="fb12" text-anchor="middle" textLength="79.0" lengthAdjust="spacingAndGlyphs">3500</text>
<line x1="1037.2" y1="844.2" x2="1037.2" y2="838.7" stroke="#000" stroke-width="5"/>
<line x1="885.5" y1="844.2" x2="885.5" y2="838.7" stroke="#000" stroke-width="5"/>
<line x1="733.9" y1="844.2" x2="733.9" y2="838.7" stroke="#000" stroke-width="5"/>
<line x1="582.3" y1="844.2" x2="582.3" y2="838.7" stroke="#000" stroke-width="5"/>
<line x1="430.6" y1="844.2" x2="430.6" y2="838.7" stroke="#000" stroke-width="5"/>
<line x1="279.0" y1="844.2" x2="279.0" y2="838.7" stroke="#000" stroke-width="5"/>
<line x1="127.4" y1="844.2" x2="127.4" y2="838.7" stroke="#000" stroke-width="5"/>
<text x="631.8" y="944.6" font-size="50" class="fb14" text-anchor="middle" textLength="430" lengthAdjust="spacingAndGlyphs">Wavenumber (cm<tspan font-size="31" dy="-20" class="fb0">−1</tspan><tspan dy="20">)</tspan></text>
<text transform="translate(86.0,419.5) rotate(-90)" font-size="50" class="fb14" text-anchor="middle" textLength="403" lengthAdjust="spacingAndGlyphs">Transmittance (%)</text>
<text x="17.3" y="73.3" font-size="53.2" class="tag" letter-spacing="0.7">(a)</text>
<rect x="1297.7" y="36.7" width="1026.5" height="809.5" fill="none" stroke="#000" stroke-width="5.8"/>
<line x1="2287.8" y1="844.2" x2="2287.8" y2="832.7" stroke="#000" stroke-width="5"/>
<text x="2287.8" y="894.2" font-size="42" class="fb12" text-anchor="middle" textLength="58.5" lengthAdjust="spacingAndGlyphs">500</text>
<line x1="2137.7" y1="844.2" x2="2137.7" y2="832.7" stroke="#000" stroke-width="5"/>
<text x="2137.7" y="894.2" font-size="42" class="fb12" text-anchor="middle" textLength="79.0" lengthAdjust="spacingAndGlyphs">1000</text>
<line x1="1987.5" y1="844.2" x2="1987.5" y2="832.7" stroke="#000" stroke-width="5"/>
<text x="1987.5" y="894.2" font-size="42" class="fb12" text-anchor="middle" textLength="79.0" lengthAdjust="spacingAndGlyphs">1500</text>
<line x1="1837.4" y1="844.2" x2="1837.4" y2="832.7" stroke="#000" stroke-width="5"/>
<text x="1837.4" y="894.2" font-size="42" class="fb12" text-anchor="middle" textLength="79.0" lengthAdjust="spacingAndGlyphs">2000</text>
<line x1="1687.2" y1="844.2" x2="1687.2" y2="832.7" stroke="#000" stroke-width="5"/>
<text x="1687.2" y="894.2" font-size="42" class="fb12" text-anchor="middle" textLength="79.0" lengthAdjust="spacingAndGlyphs">2500</text>
<line x1="1537.1" y1="844.2" x2="1537.1" y2="832.7" stroke="#000" stroke-width="5"/>
<text x="1537.1" y="894.2" font-size="42" class="fb12" text-anchor="middle" textLength="79.0" lengthAdjust="spacingAndGlyphs">3000</text>
<line x1="1386.9" y1="844.2" x2="1386.9" y2="832.7" stroke="#000" stroke-width="5"/>
<text x="1386.9" y="894.2" font-size="42" class="fb12" text-anchor="middle" textLength="79.0" lengthAdjust="spacingAndGlyphs">3500</text>
<line x1="2212.7" y1="844.2" x2="2212.7" y2="838.7" stroke="#000" stroke-width="5"/>
<line x1="2062.6" y1="844.2" x2="2062.6" y2="838.7" stroke="#000" stroke-width="5"/>
<line x1="1912.4" y1="844.2" x2="1912.4" y2="838.7" stroke="#000" stroke-width="5"/>
<line x1="1762.3" y1="844.2" x2="1762.3" y2="838.7" stroke="#000" stroke-width="5"/>
<line x1="1612.1" y1="844.2" x2="1612.1" y2="838.7" stroke="#000" stroke-width="5"/>
<line x1="1462.0" y1="844.2" x2="1462.0" y2="838.7" stroke="#000" stroke-width="5"/>
<line x1="1311.8" y1="844.2" x2="1311.8" y2="838.7" stroke="#000" stroke-width="5"/>
<text x="1814.4" y="944.6" font-size="50" class="fb14" text-anchor="middle" textLength="430" lengthAdjust="spacingAndGlyphs">Wavenumber (cm<tspan font-size="31" dy="-20" class="fb0">−1</tspan><tspan dy="20">)</tspan></text>
<text transform="translate(1270.2,421.1) rotate(-90)" font-size="50" class="fb14" text-anchor="middle" textLength="403" lengthAdjust="spacingAndGlyphs">Transmittance (%)</text>
<text x="1189.2" y="73.4" font-size="53.2" class="tag" letter-spacing="0.7">(b)</text>
<rect x="111.4" y="968.8" width="1026.3" height="810.4" fill="none" stroke="#000" stroke-width="5.8"/>
<line x1="1101.6" y1="1777.2" x2="1101.6" y2="1765.7" stroke="#000" stroke-width="5"/>
<text x="1101.6" y="1827.2" font-size="42" class="fb12" text-anchor="middle" textLength="58.5" lengthAdjust="spacingAndGlyphs">500</text>
<line x1="951.7" y1="1777.2" x2="951.7" y2="1765.7" stroke="#000" stroke-width="5"/>
<text x="951.7" y="1827.2" font-size="42" class="fb12" text-anchor="middle" textLength="79.0" lengthAdjust="spacingAndGlyphs">1000</text>
<line x1="801.7" y1="1777.2" x2="801.7" y2="1765.7" stroke="#000" stroke-width="5"/>
<text x="801.7" y="1827.2" font-size="42" class="fb12" text-anchor="middle" textLength="79.0" lengthAdjust="spacingAndGlyphs">1500</text>
<line x1="651.8" y1="1777.2" x2="651.8" y2="1765.7" stroke="#000" stroke-width="5"/>
<text x="651.8" y="1827.2" font-size="42" class="fb12" text-anchor="middle" textLength="79.0" lengthAdjust="spacingAndGlyphs">2000</text>
<line x1="501.9" y1="1777.2" x2="501.9" y2="1765.7" stroke="#000" stroke-width="5"/>
<text x="501.9" y="1827.2" font-size="42" class="fb12" text-anchor="middle" textLength="79.0" lengthAdjust="spacingAndGlyphs">2500</text>
<line x1="351.9" y1="1777.2" x2="351.9" y2="1765.7" stroke="#000" stroke-width="5"/>
<text x="351.9" y="1827.2" font-size="42" class="fb12" text-anchor="middle" textLength="79.0" lengthAdjust="spacingAndGlyphs">3000</text>
<line x1="202.0" y1="1777.2" x2="202.0" y2="1765.7" stroke="#000" stroke-width="5"/>
<text x="202.0" y="1827.2" font-size="42" class="fb12" text-anchor="middle" textLength="79.0" lengthAdjust="spacingAndGlyphs">3500</text>
<line x1="1026.6" y1="1777.2" x2="1026.6" y2="1771.7" stroke="#000" stroke-width="5"/>
<line x1="876.7" y1="1777.2" x2="876.7" y2="1771.7" stroke="#000" stroke-width="5"/>
<line x1="726.8" y1="1777.2" x2="726.8" y2="1771.7" stroke="#000" stroke-width="5"/>
<line x1="576.8" y1="1777.2" x2="576.8" y2="1771.7" stroke="#000" stroke-width="5"/>
<line x1="426.9" y1="1777.2" x2="426.9" y2="1771.7" stroke="#000" stroke-width="5"/>
<line x1="277.0" y1="1777.2" x2="277.0" y2="1771.7" stroke="#000" stroke-width="5"/>
<line x1="127.0" y1="1777.2" x2="127.0" y2="1771.7" stroke="#000" stroke-width="5"/>
<text x="628.1" y="1877.6" font-size="50" class="fb14" text-anchor="middle" textLength="430" lengthAdjust="spacingAndGlyphs">Wavenumber (cm<tspan font-size="31" dy="-20" class="fb0">−1</tspan><tspan dy="20">)</tspan></text>
<text transform="translate(83.9,1353.6) rotate(-90)" font-size="50" class="fb14" text-anchor="middle" textLength="403" lengthAdjust="spacingAndGlyphs">Transmittance (%)</text>
<text x="17.3" y="996.8" font-size="53.2" class="tag" letter-spacing="0.7">(c)</text>
<rect x="1297.7" y="969.1" width="1026.5" height="810.1" fill="none" stroke="#000" stroke-width="5.8"/>
<line x1="2287.8" y1="1777.2" x2="2287.8" y2="1765.7" stroke="#000" stroke-width="5"/>
<text x="2287.8" y="1827.2" font-size="42" class="fb12" text-anchor="middle" textLength="58.5" lengthAdjust="spacingAndGlyphs">500</text>
<line x1="2137.6" y1="1777.2" x2="2137.6" y2="1765.7" stroke="#000" stroke-width="5"/>
<text x="2137.6" y="1827.2" font-size="42" class="fb12" text-anchor="middle" textLength="79.0" lengthAdjust="spacingAndGlyphs">1000</text>
<line x1="1987.5" y1="1777.2" x2="1987.5" y2="1765.7" stroke="#000" stroke-width="5"/>
<text x="1987.5" y="1827.2" font-size="42" class="fb12" text-anchor="middle" textLength="79.0" lengthAdjust="spacingAndGlyphs">1500</text>
<line x1="1837.3" y1="1777.2" x2="1837.3" y2="1765.7" stroke="#000" stroke-width="5"/>
<text x="1837.3" y="1827.2" font-size="42" class="fb12" text-anchor="middle" textLength="79.0" lengthAdjust="spacingAndGlyphs">2000</text>
<line x1="1687.1" y1="1777.2" x2="1687.1" y2="1765.7" stroke="#000" stroke-width="5"/>
<text x="1687.1" y="1827.2" font-size="42" class="fb12" text-anchor="middle" textLength="79.0" lengthAdjust="spacingAndGlyphs">2500</text>
<line x1="1537.0" y1="1777.2" x2="1537.0" y2="1765.7" stroke="#000" stroke-width="5"/>
<text x="1537.0" y="1827.2" font-size="42" class="fb12" text-anchor="middle" textLength="79.0" lengthAdjust="spacingAndGlyphs">3000</text>
<line x1="1386.8" y1="1777.2" x2="1386.8" y2="1765.7" stroke="#000" stroke-width="5"/>
<text x="1386.8" y="1827.2" font-size="42" class="fb12" text-anchor="middle" textLength="79.0" lengthAdjust="spacingAndGlyphs">3500</text>
<line x1="2212.7" y1="1777.2" x2="2212.7" y2="1771.7" stroke="#000" stroke-width="5"/>
<line x1="2062.6" y1="1777.2" x2="2062.6" y2="1771.7" stroke="#000" stroke-width="5"/>
<line x1="1912.4" y1="1777.2" x2="1912.4" y2="1771.7" stroke="#000" stroke-width="5"/>
<line x1="1762.2" y1="1777.2" x2="1762.2" y2="1771.7" stroke="#000" stroke-width="5"/>
<line x1="1612.0" y1="1777.2" x2="1612.0" y2="1771.7" stroke="#000" stroke-width="5"/>
<line x1="1461.9" y1="1777.2" x2="1461.9" y2="1771.7" stroke="#000" stroke-width="5"/>
<line x1="1311.7" y1="1777.2" x2="1311.7" y2="1771.7" stroke="#000" stroke-width="5"/>
<text x="1814.4" y="1877.6" font-size="50" class="fb14" text-anchor="middle" textLength="430" lengthAdjust="spacingAndGlyphs">Wavenumber (cm<tspan font-size="31" dy="-20" class="fb0">−1</tspan><tspan dy="20">)</tspan></text>
<text transform="translate(1270.2,1353.8) rotate(-90)" font-size="50" class="fb14" text-anchor="middle" textLength="403" lengthAdjust="spacingAndGlyphs">Transmittance (%)</text>
<text x="1189.2" y="998.7" font-size="53.2" class="tag" letter-spacing="0.7">(d)</text>
<text transform="translate(262.0,628.4) rotate(-90)" font-size="40.5" class="fb12" text-anchor="middle" textLength="77.0" lengthAdjust="spacingAndGlyphs">3351</text>
<text transform="translate(394.3,492.1) rotate(-90)" font-size="40.5" class="fb12" text-anchor="middle" textLength="77.0" lengthAdjust="spacingAndGlyphs">2928</text>
<text transform="translate(776.9,630.5) rotate(-90)" font-size="40.5" class="fb12" text-anchor="middle" textLength="77.0" lengthAdjust="spacingAndGlyphs">1631</text>
<text transform="translate(810.3,684.0) rotate(-90)" font-size="40.5" class="fb12" text-anchor="middle" textLength="77.0" lengthAdjust="spacingAndGlyphs">1542</text>
<text transform="translate(843.4,692.1) rotate(-90)" font-size="40.5" class="fb12" text-anchor="middle" textLength="77.0" lengthAdjust="spacingAndGlyphs">1463</text>
<text transform="translate(865.9,528.0) rotate(-90)" font-size="40.5" class="fb12" text-anchor="middle" textLength="77.0" lengthAdjust="spacingAndGlyphs">1406</text>
<text transform="translate(905.8,542.1) rotate(-90)" font-size="40.5" class="fb12" text-anchor="middle" textLength="77.0" lengthAdjust="spacingAndGlyphs">1206</text>
<text transform="translate(911.9,637.5) rotate(-90)" font-size="40.5" class="fb12" text-anchor="middle" textLength="77.0" lengthAdjust="spacingAndGlyphs">1151</text>
<text transform="translate(942.1,653.0) rotate(-90)" font-size="40.5" class="fb12" text-anchor="middle" textLength="77.0" lengthAdjust="spacingAndGlyphs">1080</text>
<text transform="translate(966.3,754.8) rotate(-90)" font-size="40.5" class="fb12" text-anchor="middle" textLength="77.0" lengthAdjust="spacingAndGlyphs">1027</text>
<text transform="translate(1348.1,240.2) rotate(-90)" font-size="40.5" class="fb12" text-anchor="middle" textLength="77.0" lengthAdjust="spacingAndGlyphs">3678</text>
<text transform="translate(1381.9,228.8) rotate(-90)" font-size="40.5" class="fb12" text-anchor="middle" textLength="77.0" lengthAdjust="spacingAndGlyphs">3565</text>
<text transform="translate(1427.4,228.4) rotate(-90)" font-size="40.5" class="fb12" text-anchor="middle" textLength="77.0" lengthAdjust="spacingAndGlyphs">3422</text>
<text transform="translate(1341.3,413.6) rotate(-90)" font-size="40.5" class="fb12" text-anchor="middle" textLength="77.0" lengthAdjust="spacingAndGlyphs">3677</text>
<text transform="translate(1381.9,424.5) rotate(-90)" font-size="40.5" class="fb12" text-anchor="middle" textLength="77.0" lengthAdjust="spacingAndGlyphs">3570</text>
<text transform="translate(1424.3,444.1) rotate(-90)" font-size="40.5" class="fb12" text-anchor="middle" textLength="77.0" lengthAdjust="spacingAndGlyphs">3425</text>
<text transform="translate(1947.9,258.5) rotate(-90)" font-size="40.5" class="fb12" text-anchor="middle" textLength="77.0" lengthAdjust="spacingAndGlyphs">1639</text>
<text transform="translate(1982.3,267.5) rotate(-90)" font-size="40.5" class="fb12" text-anchor="middle" textLength="77.0" lengthAdjust="spacingAndGlyphs">1547</text>
<text transform="translate(2016.9,148.5) rotate(-90)" font-size="40.5" class="fb12" text-anchor="middle" textLength="77.0" lengthAdjust="spacingAndGlyphs">1462</text>
<text transform="translate(1957.6,390.0) rotate(-90)" font-size="40.5" class="fb12" text-anchor="middle" textLength="77.0" lengthAdjust="spacingAndGlyphs">1640</text>
<text transform="translate(2185.0,88.7) rotate(-90)" font-size="40.5" class="fb12" text-anchor="middle" textLength="57.5" lengthAdjust="spacingAndGlyphs">759</text>
<text transform="translate(2228.6,179.4) rotate(-90)" font-size="40.5" class="fb12" text-anchor="middle" textLength="57.5" lengthAdjust="spacingAndGlyphs">729</text>
<text transform="translate(2250.4,270.2) rotate(-90)" font-size="40.5" class="fb12" text-anchor="middle" textLength="57.5" lengthAdjust="spacingAndGlyphs">671</text>
<text transform="translate(2221.3,359.6) rotate(-90)" font-size="40.5" class="fb12" text-anchor="middle" textLength="57.5" lengthAdjust="spacingAndGlyphs">757</text>
<text transform="translate(2304.8,96.0) rotate(-90)" font-size="40.5" class="fb12" text-anchor="middle" textLength="57.5" lengthAdjust="spacingAndGlyphs">465</text>
<text transform="translate(2250.8,446.2) rotate(-90)" font-size="40.5" class="fb12" text-anchor="middle" textLength="57.5" lengthAdjust="spacingAndGlyphs">671</text>
<text transform="translate(2116.8,793.0) rotate(-90)" font-size="40.5" class="fb12" text-anchor="middle" textLength="77.0" lengthAdjust="spacingAndGlyphs">1018</text>
<text transform="translate(2313.3,732.4) rotate(-90)" font-size="40.5" class="fb12" text-anchor="middle" textLength="57.5" lengthAdjust="spacingAndGlyphs">452</text>
<text transform="translate(163.6,1146.5) rotate(-90)" font-size="40.5" class="fb12" text-anchor="middle" textLength="77.0" lengthAdjust="spacingAndGlyphs">3678</text>
<text transform="translate(240.5,1133.6) rotate(-90)" font-size="40.5" class="fb12" text-anchor="middle" textLength="77.0" lengthAdjust="spacingAndGlyphs">3424</text>
<text transform="translate(383.7,1126.5) rotate(-90)" font-size="40.5" class="fb12" text-anchor="middle" textLength="77.0" lengthAdjust="spacingAndGlyphs">2929</text>
<text transform="translate(420.7,1116.8) rotate(-90)" font-size="40.5" class="fb12" text-anchor="middle" textLength="77.0" lengthAdjust="spacingAndGlyphs">2857</text>
<text transform="translate(384.5,1283.0) rotate(-90)" font-size="40.5" class="fb12" text-anchor="middle" textLength="77.0" lengthAdjust="spacingAndGlyphs">2929</text>
<text transform="translate(419.5,1262.6) rotate(-90)" font-size="40.5" class="fb12" text-anchor="middle" textLength="77.0" lengthAdjust="spacingAndGlyphs">2856</text>
<text transform="translate(191.6,1339.0) rotate(-90)" font-size="40.5" class="fb12" text-anchor="middle" textLength="77.0" lengthAdjust="spacingAndGlyphs">3570</text>
<text transform="translate(241.7,1344.5) rotate(-90)" font-size="40.5" class="fb12" text-anchor="middle" textLength="77.0" lengthAdjust="spacingAndGlyphs">3419</text>
<text transform="translate(160.6,1382.4) rotate(-90)" font-size="40.5" class="fb12" text-anchor="middle" textLength="77.0" lengthAdjust="spacingAndGlyphs">3678</text>
<text transform="translate(765.3,1160.5) rotate(-90)" font-size="40.5" class="fb12" text-anchor="middle" textLength="77.0" lengthAdjust="spacingAndGlyphs">1629</text>
<text transform="translate(799.7,1174.7) rotate(-90)" font-size="40.5" class="fb12" text-anchor="middle" textLength="77.0" lengthAdjust="spacingAndGlyphs">1543</text>
<text transform="translate(836.7,1198.5) rotate(-90)" font-size="40.5" class="fb12" text-anchor="middle" textLength="77.0" lengthAdjust="spacingAndGlyphs">1463</text>
<text transform="translate(774.5,1333.0) rotate(-90)" font-size="40.5" class="fb12" text-anchor="middle" textLength="77.0" lengthAdjust="spacingAndGlyphs">1640</text>
<text transform="translate(831.9,1389.0) rotate(-90)" font-size="40.5" class="fb12" text-anchor="middle" textLength="77.0" lengthAdjust="spacingAndGlyphs">1441</text>
<text transform="translate(923.8,1726.0) rotate(-90)" font-size="40.5" class="fb12" text-anchor="middle" textLength="77.0" lengthAdjust="spacingAndGlyphs">1018</text>
<text transform="translate(1123.9,1712.8) rotate(-90)" font-size="40.5" class="fb12" text-anchor="middle" textLength="57.5" lengthAdjust="spacingAndGlyphs">465</text>
<text transform="translate(1070.2,1451.2) rotate(-90)" font-size="40.5" class="fb12" text-anchor="middle" textLength="57.5" lengthAdjust="spacingAndGlyphs">670</text>
<text transform="translate(1014.5,1390.5) rotate(-90)" font-size="40.5" class="fb12" text-anchor="middle" textLength="57.5" lengthAdjust="spacingAndGlyphs">757</text>
<text transform="translate(1047.2,1384.0) rotate(-90)" font-size="40.5" class="fb12" text-anchor="middle" textLength="57.5" lengthAdjust="spacingAndGlyphs">728</text>
<text transform="translate(1350.5,1187.6) rotate(-90)" font-size="40.5" class="fb12" text-anchor="middle" textLength="77.0" lengthAdjust="spacingAndGlyphs">3677</text>
<text transform="translate(1427.9,1147.7) rotate(-90)" font-size="40.5" class="fb12" text-anchor="middle" textLength="77.0" lengthAdjust="spacingAndGlyphs">3421</text>
<text transform="translate(1570.2,1153.1) rotate(-90)" font-size="40.5" class="fb12" text-anchor="middle" textLength="77.0" lengthAdjust="spacingAndGlyphs">2927</text>
<text transform="translate(1603.3,1129.5) rotate(-90)" font-size="40.5" class="fb12" text-anchor="middle" textLength="77.0" lengthAdjust="spacingAndGlyphs">2855</text>
<text transform="translate(1384.4,1309.5) rotate(-90)" font-size="40.5" class="fb12" text-anchor="middle" textLength="77.0" lengthAdjust="spacingAndGlyphs">3576</text>
<text transform="translate(1426.7,1314.0) rotate(-90)" font-size="40.5" class="fb12" text-anchor="middle" textLength="77.0" lengthAdjust="spacingAndGlyphs">3429</text>
<text transform="translate(1570.7,1328.5) rotate(-90)" font-size="40.5" class="fb12" text-anchor="middle" textLength="77.0" lengthAdjust="spacingAndGlyphs">2926</text>
<text transform="translate(1604.5,1296.8) rotate(-90)" font-size="40.5" class="fb12" text-anchor="middle" textLength="77.0" lengthAdjust="spacingAndGlyphs">2854</text>
<text transform="translate(1350.0,1367.3) rotate(-90)" font-size="40.5" class="fb12" text-anchor="middle" textLength="77.0" lengthAdjust="spacingAndGlyphs">3678</text>
<text transform="translate(1955.2,1196.0) rotate(-90)" font-size="40.5" class="fb12" text-anchor="middle" textLength="77.0" lengthAdjust="spacingAndGlyphs">1629</text>
<text transform="translate(1986.6,1222.5) rotate(-90)" font-size="40.5" class="fb12" text-anchor="middle" textLength="77.0" lengthAdjust="spacingAndGlyphs">1542</text>
<text transform="translate(2018.6,1272.5) rotate(-90)" font-size="40.5" class="fb12" text-anchor="middle" textLength="77.0" lengthAdjust="spacingAndGlyphs">1462</text>
<text transform="translate(1960.0,1333.5) rotate(-90)" font-size="40.5" class="fb12" text-anchor="middle" textLength="77.0" lengthAdjust="spacingAndGlyphs">1622</text>
<text transform="translate(2019.3,1388.5) rotate(-90)" font-size="40.5" class="fb12" text-anchor="middle" textLength="77.0" lengthAdjust="spacingAndGlyphs">1440</text>
<text transform="translate(2214.6,1274.7) rotate(-90)" font-size="40.5" class="fb12" text-anchor="middle" textLength="57.5" lengthAdjust="spacingAndGlyphs">757</text>
<text transform="translate(2231.5,1329.8) rotate(-90)" font-size="40.5" class="fb12" text-anchor="middle" textLength="57.5" lengthAdjust="spacingAndGlyphs">728</text>
<text transform="translate(2122.1,1727.5) rotate(-90)" font-size="40.5" class="fb12" text-anchor="middle" textLength="77.0" lengthAdjust="spacingAndGlyphs">1017</text>
<text transform="translate(2309.6,1700.8) rotate(-90)" font-size="40.5" class="fb12" text-anchor="middle" textLength="57.5" lengthAdjust="spacingAndGlyphs">465</text>
<text transform="translate(2250.4,1426.1) rotate(-90)" font-size="40.5" class="fb12" text-anchor="middle" textLength="57.5" lengthAdjust="spacingAndGlyphs">670</text>
<text x="564.5" y="147.3" font-size="36" class="fb10" textLength="60" lengthAdjust="spacingAndGlyphs">MR</text>
<text x="1710.0" y="174.6" font-size="36" class="fb10" textLength="122" lengthAdjust="spacingAndGlyphs">MR/Sep</text>
<text x="1748.5" y="332.3" font-size="36" class="fb10" textLength="53.5" lengthAdjust="spacingAndGlyphs">Sep</text>
<text x="451.4" y="1104.3" font-size="34" class="fb10" textLength="229" lengthAdjust="spacing">DTAB/MR/Sep</text>
<text x="505.1" y="1227.3" font-size="34" class="fb10" textLength="161" lengthAdjust="spacing">DTAB/Sep</text>
<text x="1635.0" y="1112.1" font-size="34" class="fb10" textLength="232" lengthAdjust="spacing">CTAB/MR/Sep</text>
<text x="1682.8" y="1248.8" font-size="34" class="fb10" textLength="162" lengthAdjust="spacing">CTAB/Sep</text>
<line x1="2001.2" y1="257.5" x2="2002.6" y2="214.9" stroke="#111" stroke-width="1.4"/>
<polygon points="2003.1,198.9 2007.2,215.0 1998.0,214.7" fill="#111"/>
<line x1="2206.8" y1="132.8" x2="2195.5" y2="114.9" stroke="#111" stroke-width="1.4"/>
<polygon points="2187.0,101.4 2199.4,112.5 2191.6,117.4" fill="#111"/>
<line x1="2300.7" y1="454.2" x2="2293.6" y2="153.7" stroke="#111" stroke-width="1.4"/>
<polygon points="2293.2,137.7 2298.2,153.6 2289.0,153.8" fill="#111"/>
<line x1="1025.5" y1="1209.4" x2="1001.6" y2="1347.3" stroke="#111" stroke-width="1.4"/>
<polygon points="998.8,1363.0 997.0,1346.5 1006.1,1348.1" fill="#111"/>
<line x1="1033.9" y1="1211.8" x2="1035.4" y2="1342.2" stroke="#111" stroke-width="1.4"/>
<polygon points="1035.6,1358.2 1030.8,1342.3 1040.0,1342.2" fill="#111"/>
<line x1="2211.7" y1="1211.8" x2="2207.6" y2="1219.8" stroke="#111" stroke-width="1.4"/>
<polygon points="2200.3,1234.1 2203.5,1217.7 2211.7,1221.9" fill="#111"/>
<line x1="2218.9" y1="1221.5" x2="2220.8" y2="1279.3" stroke="#111" stroke-width="1.4"/>
<polygon points="2221.4,1295.3 2216.2,1279.5 2225.4,1279.2" fill="#111"/>
</svg></body></html>
